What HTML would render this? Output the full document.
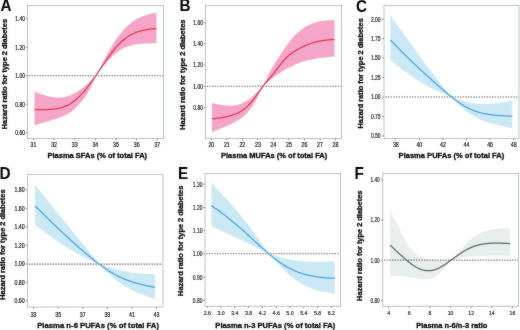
<!DOCTYPE html>
<html><head><meta charset="utf-8"><style>
html,body{margin:0;padding:0;background:#fff;}
svg{display:block;will-change:transform;}
text{font-family:"Liberation Sans", sans-serif;}
</style></head><body>
<svg xmlns="http://www.w3.org/2000/svg" width="520" height="330" viewBox="0 0 520 330">
<defs><filter id="bl" x="0" y="0" width="520" height="330" filterUnits="userSpaceOnUse" color-interpolation-filters="sRGB"><feGaussianBlur in="SourceGraphic" stdDeviation="0.8" result="b"/><feComposite in="b" in2="SourceGraphic" operator="arithmetic" k1="0" k2="0.28" k3="0.72" k4="0"/></filter></defs>
<rect width="520" height="330" fill="#fff"/>
<g filter="url(#bl)">
<path d="M34.50,91.58 L35.18,91.84 L35.86,92.11 L36.54,92.37 L37.22,92.63 L37.91,92.89 L38.59,93.15 L39.27,93.40 L39.95,93.65 L40.63,93.90 L41.31,94.14 L41.99,94.38 L42.67,94.61 L43.35,94.84 L44.04,95.06 L44.72,95.27 L45.40,95.48 L46.08,95.67 L46.76,95.87 L47.44,96.05 L48.12,96.22 L48.80,96.39 L49.48,96.54 L50.17,96.69 L50.85,96.82 L51.53,96.95 L52.21,97.06 L52.89,97.17 L53.57,97.26 L54.25,97.34 L54.93,97.41 L55.61,97.46 L56.30,97.51 L56.98,97.54 L57.66,97.56 L58.34,97.56 L59.02,97.55 L59.70,97.53 L60.38,97.49 L61.06,97.44 L61.74,97.37 L62.43,97.29 L63.11,97.19 L63.79,97.08 L64.47,96.95 L65.15,96.81 L65.83,96.66 L66.51,96.48 L67.19,96.29 L67.87,96.09 L68.56,95.87 L69.24,95.63 L69.92,95.38 L70.60,95.11 L71.28,94.82 L71.96,94.52 L72.64,94.21 L73.32,93.88 L74.00,93.53 L74.69,93.17 L75.37,92.79 L76.05,92.39 L76.73,91.99 L77.41,91.56 L78.09,91.13 L78.77,90.67 L79.45,90.21 L80.13,89.73 L80.82,89.24 L81.50,88.73 L82.18,88.21 L82.86,87.68 L83.54,87.14 L84.22,86.58 L84.90,86.02 L85.58,85.44 L86.26,84.86 L86.95,84.26 L87.63,83.66 L88.31,83.04 L88.99,82.42 L89.67,81.79 L90.35,81.16 L91.03,80.52 L91.71,79.87 L92.39,79.22 L93.08,78.57 L93.76,77.91 L94.44,77.25 L95.12,76.59 L95.80,75.93 L96.48,74.48 L97.16,73.18 L97.84,71.88 L98.52,70.58 L99.20,69.28 L99.89,67.98 L100.57,66.68 L101.25,65.39 L101.93,64.09 L102.61,62.80 L103.29,61.52 L103.97,60.24 L104.65,58.97 L105.33,57.70 L106.01,56.45 L106.69,55.20 L107.38,53.96 L108.06,52.74 L108.74,51.53 L109.42,50.33 L110.10,49.15 L110.78,47.99 L111.46,46.84 L112.14,45.71 L112.82,44.60 L113.50,43.51 L114.18,42.44 L114.87,41.39 L115.55,40.37 L116.23,39.36 L116.91,38.38 L117.59,37.42 L118.27,36.48 L118.95,35.57 L119.63,34.68 L120.31,33.81 L120.99,32.97 L121.67,32.14 L122.36,31.34 L123.04,30.57 L123.72,29.81 L124.40,29.08 L125.08,28.36 L125.76,27.67 L126.44,27.00 L127.12,26.35 L127.80,25.72 L128.48,25.11 L129.16,24.52 L129.84,23.95 L130.53,23.39 L131.21,22.86 L131.89,22.34 L132.57,21.84 L133.25,21.35 L133.93,20.89 L134.61,20.44 L135.29,20.00 L135.97,19.58 L136.65,19.18 L137.33,18.79 L138.02,18.42 L138.70,18.06 L139.38,17.72 L140.06,17.39 L140.74,17.07 L141.42,16.77 L142.10,16.47 L142.78,16.19 L143.46,15.93 L144.14,15.67 L144.82,15.43 L145.51,15.20 L146.19,14.98 L146.87,14.76 L147.55,14.56 L148.23,14.37 L148.91,14.19 L149.59,14.01 L150.27,13.84 L150.95,13.68 L151.63,13.53 L152.31,13.38 L153.00,13.24 L153.68,13.10 L154.36,12.96 L155.04,12.83 L155.72,12.69 L156.40,12.56 L156.40,43.19 L155.72,43.21 L155.04,43.22 L154.36,43.24 L153.68,43.26 L153.00,43.28 L152.31,43.29 L151.63,43.31 L150.95,43.33 L150.27,43.36 L149.59,43.38 L148.91,43.40 L148.23,43.43 L147.55,43.46 L146.87,43.49 L146.19,43.52 L145.51,43.56 L144.82,43.60 L144.14,43.64 L143.46,43.68 L142.78,43.73 L142.10,43.78 L141.42,43.83 L140.74,43.89 L140.06,43.96 L139.38,44.03 L138.70,44.10 L138.02,44.18 L137.33,44.27 L136.65,44.36 L135.97,44.47 L135.29,44.58 L134.61,44.70 L133.93,44.82 L133.25,44.96 L132.57,45.11 L131.89,45.27 L131.21,45.44 L130.53,45.62 L129.84,45.81 L129.16,46.02 L128.48,46.24 L127.80,46.48 L127.12,46.73 L126.44,46.99 L125.76,47.27 L125.08,47.56 L124.40,47.87 L123.72,48.20 L123.04,48.55 L122.36,48.91 L121.67,49.29 L120.99,49.69 L120.31,50.11 L119.63,50.55 L118.95,51.00 L118.27,51.48 L117.59,51.97 L116.91,52.49 L116.23,53.02 L115.55,53.57 L114.87,54.15 L114.18,54.73 L113.50,55.34 L112.82,55.97 L112.14,56.61 L111.46,57.27 L110.78,57.94 L110.10,58.63 L109.42,59.34 L108.74,60.06 L108.06,60.79 L107.38,61.54 L106.69,62.30 L106.01,63.07 L105.33,63.86 L104.65,64.66 L103.97,65.47 L103.29,66.29 L102.61,67.12 L101.93,67.96 L101.25,68.80 L100.57,69.66 L99.89,70.52 L99.20,71.38 L98.52,72.25 L97.84,73.13 L97.16,74.00 L96.48,74.88 L95.80,75.82 L95.12,77.51 L94.44,79.19 L93.76,80.84 L93.08,82.46 L92.39,84.03 L91.71,85.55 L91.03,86.99 L90.35,88.36 L89.67,89.66 L88.99,90.90 L88.31,92.08 L87.63,93.20 L86.95,94.27 L86.26,95.28 L85.58,96.26 L84.90,97.19 L84.22,98.09 L83.54,98.95 L82.86,99.79 L82.18,100.60 L81.50,101.40 L80.82,102.18 L80.13,102.95 L79.45,103.72 L78.77,104.48 L78.09,105.23 L77.41,105.97 L76.73,106.70 L76.05,107.41 L75.37,108.11 L74.69,108.77 L74.00,109.41 L73.32,110.02 L72.64,110.60 L71.96,111.15 L71.28,111.66 L70.60,112.15 L69.92,112.61 L69.24,113.04 L68.56,113.46 L67.87,113.85 L67.19,114.23 L66.51,114.59 L65.83,114.94 L65.15,115.28 L64.47,115.60 L63.79,115.92 L63.11,116.22 L62.43,116.51 L61.74,116.80 L61.06,117.07 L60.38,117.34 L59.70,117.59 L59.02,117.84 L58.34,118.08 L57.66,118.31 L56.98,118.54 L56.30,118.75 L55.61,118.97 L54.93,119.18 L54.25,119.38 L53.57,119.58 L52.89,119.78 L52.21,119.98 L51.53,120.17 L50.85,120.37 L50.17,120.56 L49.48,120.76 L48.80,120.96 L48.12,121.16 L47.44,121.36 L46.76,121.56 L46.08,121.77 L45.40,121.98 L44.72,122.19 L44.04,122.40 L43.35,122.61 L42.67,122.82 L41.99,123.03 L41.31,123.24 L40.63,123.45 L39.95,123.66 L39.27,123.87 L38.59,124.07 L37.91,124.28 L37.22,124.48 L36.54,124.69 L35.86,124.89 L35.18,125.10 L34.50,125.30Z" fill="#f4a5c8" stroke="none"/>
<line x1="28.0" y1="75.8" x2="163.0" y2="75.8" stroke="#666" stroke-width="1.1" stroke-dasharray="1.45 1.22" stroke-dashoffset="-0.75"/>
<path d="M34.50,109.61 L35.17,109.61 L35.85,109.62 L36.52,109.63 L37.19,109.63 L37.87,109.64 L38.54,109.64 L39.21,109.64 L39.89,109.64 L40.56,109.64 L41.23,109.64 L41.91,109.64 L42.58,109.64 L43.26,109.63 L43.93,109.62 L44.60,109.61 L45.28,109.59 L45.95,109.57 L46.62,109.55 L47.30,109.53 L47.97,109.50 L48.64,109.47 L49.32,109.43 L49.99,109.39 L50.66,109.34 L51.34,109.29 L52.01,109.23 L52.68,109.17 L53.36,109.10 L54.03,109.02 L54.70,108.94 L55.38,108.84 L56.05,108.74 L56.72,108.63 L57.40,108.51 L58.07,108.38 L58.75,108.24 L59.42,108.09 L60.09,107.93 L60.77,107.76 L61.44,107.57 L62.11,107.38 L62.79,107.16 L63.46,106.94 L64.13,106.70 L64.81,106.44 L65.48,106.17 L66.15,105.88 L66.83,105.57 L67.50,105.25 L68.17,104.91 L68.85,104.55 L69.52,104.17 L70.19,103.77 L70.87,103.36 L71.54,102.92 L72.21,102.47 L72.89,101.99 L73.56,101.50 L74.24,100.99 L74.91,100.46 L75.58,99.91 L76.26,99.34 L76.93,98.75 L77.60,98.15 L78.28,97.53 L78.95,96.88 L79.62,96.22 L80.30,95.55 L80.97,94.85 L81.64,94.14 L82.32,93.41 L82.99,92.66 L83.66,91.90 L84.34,91.12 L85.01,90.32 L85.68,89.51 L86.36,88.68 L87.03,87.83 L87.70,86.97 L88.38,86.10 L89.05,85.22 L89.73,84.32 L90.40,83.41 L91.07,82.48 L91.75,81.55 L92.42,80.60 L93.09,79.65 L93.77,78.69 L94.44,77.72 L95.11,76.74 L95.79,75.75 L96.46,74.76 L97.13,73.77 L97.81,72.77 L98.48,71.77 L99.15,70.76 L99.83,69.76 L100.50,68.75 L101.17,67.74 L101.85,66.74 L102.52,65.73 L103.20,64.73 L103.87,63.74 L104.54,62.74 L105.22,61.76 L105.89,60.78 L106.56,59.80 L107.24,58.84 L107.91,57.88 L108.58,56.94 L109.26,56.00 L109.93,55.08 L110.60,54.17 L111.28,53.27 L111.95,52.39 L112.62,51.52 L113.30,50.66 L113.97,49.82 L114.64,49.00 L115.32,48.19 L115.99,47.40 L116.66,46.63 L117.34,45.88 L118.01,45.15 L118.69,44.44 L119.36,43.75 L120.03,43.07 L120.71,42.42 L121.38,41.78 L122.05,41.17 L122.73,40.57 L123.40,40.00 L124.07,39.44 L124.75,38.91 L125.42,38.39 L126.09,37.89 L126.77,37.41 L127.44,36.95 L128.11,36.50 L128.79,36.08 L129.46,35.67 L130.13,35.27 L130.81,34.90 L131.48,34.53 L132.15,34.19 L132.83,33.86 L133.50,33.54 L134.18,33.24 L134.85,32.96 L135.52,32.68 L136.20,32.42 L136.87,32.17 L137.54,31.94 L138.22,31.71 L138.89,31.50 L139.56,31.29 L140.24,31.10 L140.91,30.92 L141.58,30.74 L142.26,30.58 L142.93,30.42 L143.60,30.28 L144.28,30.14 L144.95,30.00 L145.62,29.88 L146.30,29.76 L146.97,29.64 L147.64,29.54 L148.32,29.43 L148.99,29.34 L149.67,29.24 L150.34,29.15 L151.01,29.07 L151.69,28.99 L152.36,28.91 L153.03,28.83 L153.71,28.76 L154.38,28.69 L155.05,28.62 L155.73,28.55 L156.40,28.48" fill="none" stroke="#e63452" stroke-width="1.25" stroke-linejoin="round"/>
<rect x="27.5" y="5.5" width="136.0" height="133.0" fill="none" stroke="#b3c3c3" stroke-width="1"/>
<line x1="25.7" y1="18.7" x2="27.5" y2="18.7" stroke="#7f8f8f" stroke-width="0.9"/>
<text x="24.9" y="21.0" text-anchor="end" font-size="6.4" fill="#1c1c1c" stroke="#1c1c1c" stroke-width="0.22" textLength="9.6" lengthAdjust="spacingAndGlyphs">1.40</text>
<line x1="25.7" y1="47.2" x2="27.5" y2="47.2" stroke="#7f8f8f" stroke-width="0.9"/>
<text x="24.9" y="49.5" text-anchor="end" font-size="6.4" fill="#1c1c1c" stroke="#1c1c1c" stroke-width="0.22" textLength="9.6" lengthAdjust="spacingAndGlyphs">1.20</text>
<line x1="25.7" y1="75.8" x2="27.5" y2="75.8" stroke="#7f8f8f" stroke-width="0.9"/>
<text x="24.9" y="78.1" text-anchor="end" font-size="6.4" fill="#1c1c1c" stroke="#1c1c1c" stroke-width="0.22" textLength="9.6" lengthAdjust="spacingAndGlyphs">1.00</text>
<line x1="25.7" y1="104.3" x2="27.5" y2="104.3" stroke="#7f8f8f" stroke-width="0.9"/>
<text x="24.9" y="106.6" text-anchor="end" font-size="6.4" fill="#1c1c1c" stroke="#1c1c1c" stroke-width="0.22" textLength="9.6" lengthAdjust="spacingAndGlyphs">0.80</text>
<line x1="25.7" y1="132.8" x2="27.5" y2="132.8" stroke="#7f8f8f" stroke-width="0.9"/>
<text x="24.9" y="135.10000000000002" text-anchor="end" font-size="6.4" fill="#1c1c1c" stroke="#1c1c1c" stroke-width="0.22" textLength="9.6" lengthAdjust="spacingAndGlyphs">0.60</text>
<line x1="33.4" y1="138.5" x2="33.4" y2="140.3" stroke="#7f8f8f" stroke-width="0.9"/>
<text x="33.4" y="146.6" text-anchor="middle" font-size="6.4" fill="#1c1c1c" stroke="#1c1c1c" stroke-width="0.22" textLength="5.84" lengthAdjust="spacingAndGlyphs">31</text>
<line x1="54.05" y1="138.5" x2="54.05" y2="140.3" stroke="#7f8f8f" stroke-width="0.9"/>
<text x="54.05" y="146.6" text-anchor="middle" font-size="6.4" fill="#1c1c1c" stroke="#1c1c1c" stroke-width="0.22" textLength="5.84" lengthAdjust="spacingAndGlyphs">32</text>
<line x1="74.69999999999999" y1="138.5" x2="74.69999999999999" y2="140.3" stroke="#7f8f8f" stroke-width="0.9"/>
<text x="74.69999999999999" y="146.6" text-anchor="middle" font-size="6.4" fill="#1c1c1c" stroke="#1c1c1c" stroke-width="0.22" textLength="5.84" lengthAdjust="spacingAndGlyphs">33</text>
<line x1="95.35" y1="138.5" x2="95.35" y2="140.3" stroke="#7f8f8f" stroke-width="0.9"/>
<text x="95.35" y="146.6" text-anchor="middle" font-size="6.4" fill="#1c1c1c" stroke="#1c1c1c" stroke-width="0.22" textLength="5.84" lengthAdjust="spacingAndGlyphs">34</text>
<line x1="116.0" y1="138.5" x2="116.0" y2="140.3" stroke="#7f8f8f" stroke-width="0.9"/>
<text x="116.0" y="146.6" text-anchor="middle" font-size="6.4" fill="#1c1c1c" stroke="#1c1c1c" stroke-width="0.22" textLength="5.84" lengthAdjust="spacingAndGlyphs">35</text>
<line x1="136.65" y1="138.5" x2="136.65" y2="140.3" stroke="#7f8f8f" stroke-width="0.9"/>
<text x="136.65" y="146.6" text-anchor="middle" font-size="6.4" fill="#1c1c1c" stroke="#1c1c1c" stroke-width="0.22" textLength="5.84" lengthAdjust="spacingAndGlyphs">36</text>
<line x1="157.29999999999998" y1="138.5" x2="157.29999999999998" y2="140.3" stroke="#7f8f8f" stroke-width="0.9"/>
<text x="157.29999999999998" y="146.6" text-anchor="middle" font-size="6.4" fill="#1c1c1c" stroke="#1c1c1c" stroke-width="0.22" textLength="5.84" lengthAdjust="spacingAndGlyphs">37</text>
<text x="97.3" y="158.2" text-anchor="middle" font-size="7.5" font-weight="bold" fill="#0a0a0a" stroke="#0a0a0a" stroke-width="0.32">Plasma SFAs (% of total FA)</text>
<text transform="translate(6.8,74.1) rotate(-90)" text-anchor="middle" font-size="7.42" font-weight="bold" fill="#0a0a0a" stroke="#0a0a0a" stroke-width="0.32">Hazard ratio for type 2 diabetes</text>
<text transform="translate(0.5,10.7) scale(1,1.09)" font-size="15.3" font-weight="bold" fill="#000">A</text>
<path d="M212.00,103.12 L212.68,103.25 L213.35,103.39 L214.03,103.53 L214.70,103.67 L215.38,103.80 L216.06,103.94 L216.73,104.07 L217.41,104.20 L218.08,104.33 L218.76,104.45 L219.44,104.57 L220.11,104.69 L220.79,104.80 L221.46,104.91 L222.14,105.01 L222.82,105.11 L223.49,105.20 L224.17,105.28 L224.84,105.36 L225.52,105.43 L226.20,105.49 L226.87,105.54 L227.55,105.58 L228.22,105.62 L228.90,105.64 L229.58,105.65 L230.25,105.65 L230.93,105.64 L231.60,105.61 L232.28,105.58 L232.96,105.53 L233.63,105.46 L234.31,105.39 L234.98,105.29 L235.66,105.19 L236.34,105.06 L237.01,104.92 L237.69,104.77 L238.36,104.59 L239.04,104.40 L239.72,104.19 L240.39,103.96 L241.07,103.71 L241.74,103.45 L242.42,103.16 L243.10,102.85 L243.77,102.53 L244.45,102.18 L245.12,101.82 L245.80,101.43 L246.48,101.03 L247.15,100.60 L247.83,100.15 L248.50,99.69 L249.18,99.20 L249.86,98.70 L250.53,98.17 L251.21,97.63 L251.88,97.07 L252.56,96.49 L253.24,95.89 L253.91,95.28 L254.59,94.65 L255.26,94.01 L255.94,93.35 L256.62,92.68 L257.29,92.00 L257.97,91.31 L258.64,90.60 L259.32,89.89 L260.00,89.18 L260.67,88.45 L261.35,87.73 L262.02,87.00 L262.70,86.27 L263.38,84.95 L264.05,83.67 L264.73,82.39 L265.41,81.07 L266.09,79.73 L266.76,78.36 L267.44,76.96 L268.12,75.57 L268.80,74.18 L269.47,72.81 L270.15,71.47 L270.83,70.19 L271.51,68.94 L272.18,67.73 L272.86,66.56 L273.54,65.42 L274.22,64.30 L274.89,63.20 L275.57,62.13 L276.25,61.07 L276.92,60.02 L277.60,58.98 L278.28,57.94 L278.96,56.91 L279.63,55.88 L280.31,54.85 L280.99,53.82 L281.67,52.80 L282.34,51.78 L283.02,50.76 L283.70,49.74 L284.38,48.73 L285.05,47.72 L285.73,46.73 L286.41,45.74 L287.08,44.77 L287.76,43.82 L288.44,42.89 L289.12,41.98 L289.79,41.10 L290.47,40.26 L291.15,39.44 L291.83,38.64 L292.50,37.88 L293.18,37.13 L293.86,36.41 L294.54,35.71 L295.21,35.03 L295.89,34.37 L296.57,33.72 L297.25,33.09 L297.92,32.48 L298.60,31.88 L299.28,31.31 L299.95,30.75 L300.63,30.20 L301.31,29.68 L301.99,29.17 L302.66,28.69 L303.34,28.22 L304.02,27.76 L304.70,27.33 L305.37,26.91 L306.05,26.51 L306.73,26.12 L307.41,25.75 L308.08,25.40 L308.76,25.06 L309.44,24.74 L310.12,24.43 L310.79,24.13 L311.47,23.85 L312.15,23.58 L312.82,23.33 L313.50,23.08 L314.18,22.85 L314.86,22.63 L315.53,22.42 L316.21,22.23 L316.89,22.04 L317.57,21.87 L318.24,21.70 L318.92,21.55 L319.60,21.41 L320.28,21.28 L320.95,21.15 L321.63,21.04 L322.31,20.94 L322.98,20.84 L323.66,20.75 L324.34,20.67 L325.02,20.60 L325.69,20.54 L326.37,20.48 L327.05,20.42 L327.73,20.38 L328.40,20.34 L329.08,20.30 L329.76,20.26 L330.44,20.23 L331.11,20.21 L331.79,20.18 L332.47,20.16 L333.15,20.14 L333.82,20.12 L334.50,20.10 L334.50,56.58 L333.82,56.64 L333.15,56.69 L332.47,56.75 L331.79,56.81 L331.11,56.87 L330.44,56.93 L329.76,56.99 L329.08,57.06 L328.40,57.12 L327.73,57.18 L327.05,57.25 L326.37,57.32 L325.69,57.39 L325.02,57.46 L324.34,57.53 L323.66,57.61 L322.98,57.68 L322.31,57.76 L321.63,57.85 L320.95,57.93 L320.28,58.02 L319.60,58.11 L318.92,58.21 L318.24,58.30 L317.57,58.40 L316.89,58.51 L316.21,58.62 L315.53,58.73 L314.86,58.85 L314.18,58.97 L313.50,59.09 L312.82,59.22 L312.15,59.36 L311.47,59.50 L310.79,59.64 L310.12,59.79 L309.44,59.95 L308.76,60.11 L308.08,60.27 L307.41,60.44 L306.73,60.62 L306.05,60.81 L305.37,60.99 L304.70,61.19 L304.02,61.39 L303.34,61.60 L302.66,61.81 L301.99,62.04 L301.31,62.26 L300.63,62.50 L299.95,62.74 L299.28,62.98 L298.60,63.24 L297.92,63.50 L297.25,63.76 L296.57,64.04 L295.89,64.32 L295.21,64.60 L294.54,64.90 L293.86,65.20 L293.18,65.50 L292.50,65.82 L291.83,66.14 L291.15,66.46 L290.47,66.80 L289.79,67.14 L289.12,67.49 L288.44,67.84 L287.76,68.21 L287.08,68.58 L286.41,68.96 L285.73,69.35 L285.05,69.74 L284.38,70.15 L283.70,70.56 L283.02,70.97 L282.34,71.40 L281.67,71.83 L280.99,72.27 L280.31,72.72 L279.63,73.17 L278.96,73.63 L278.28,74.10 L277.60,74.57 L276.92,75.05 L276.25,75.54 L275.57,76.03 L274.89,76.53 L274.22,77.03 L273.54,77.54 L272.86,78.05 L272.18,78.57 L271.51,79.09 L270.83,79.61 L270.15,80.14 L269.47,80.68 L268.80,81.21 L268.12,81.75 L267.44,82.29 L266.76,82.84 L266.09,83.39 L265.41,83.93 L264.73,84.48 L264.05,85.04 L263.38,85.59 L262.70,86.27 L262.02,87.70 L261.35,89.14 L260.67,90.56 L260.00,91.98 L259.32,93.37 L258.64,94.75 L257.97,96.10 L257.29,97.43 L256.62,98.72 L255.94,99.98 L255.26,101.21 L254.59,102.41 L253.91,103.57 L253.24,104.69 L252.56,105.77 L251.88,106.81 L251.21,107.81 L250.53,108.77 L249.86,109.69 L249.18,110.57 L248.50,111.41 L247.83,112.21 L247.15,112.98 L246.48,113.71 L245.80,114.40 L245.12,115.06 L244.45,115.68 L243.77,116.28 L243.10,116.84 L242.42,117.38 L241.74,117.88 L241.07,118.37 L240.39,118.83 L239.72,119.27 L239.04,119.70 L238.36,120.10 L237.69,120.50 L237.01,120.88 L236.34,121.25 L235.66,121.61 L234.98,121.96 L234.31,122.31 L233.63,122.66 L232.96,123.00 L232.28,123.33 L231.60,123.66 L230.93,123.99 L230.25,124.31 L229.58,124.63 L228.90,124.95 L228.22,125.27 L227.55,125.58 L226.87,125.89 L226.20,126.20 L225.52,126.50 L224.84,126.81 L224.17,127.11 L223.49,127.40 L222.82,127.70 L222.14,127.99 L221.46,128.29 L220.79,128.58 L220.11,128.86 L219.44,129.15 L218.76,129.44 L218.08,129.72 L217.41,130.00 L216.73,130.28 L216.06,130.56 L215.38,130.83 L214.70,131.11 L214.03,131.38 L213.35,131.66 L212.68,131.93 L212.00,132.20Z" fill="#f4a5c8" stroke="none"/>
<line x1="206.0" y1="86.2" x2="341.0" y2="86.2" stroke="#666" stroke-width="1.1" stroke-dasharray="1.45 1.22" stroke-dashoffset="-0.75"/>
<path d="M212.00,118.90 L212.67,118.83 L213.35,118.76 L214.02,118.69 L214.69,118.61 L215.37,118.54 L216.04,118.46 L216.71,118.37 L217.38,118.29 L218.06,118.19 L218.73,118.10 L219.40,117.99 L220.08,117.89 L220.75,117.78 L221.42,117.66 L222.10,117.55 L222.77,117.42 L223.44,117.30 L224.12,117.17 L224.79,117.03 L225.46,116.89 L226.13,116.75 L226.81,116.60 L227.48,116.44 L228.15,116.28 L228.83,116.11 L229.50,115.94 L230.17,115.75 L230.85,115.56 L231.52,115.36 L232.19,115.15 L232.87,114.94 L233.54,114.71 L234.21,114.47 L234.88,114.21 L235.56,113.95 L236.23,113.67 L236.90,113.38 L237.58,113.07 L238.25,112.75 L238.92,112.41 L239.60,112.05 L240.27,111.67 L240.94,111.28 L241.62,110.86 L242.29,110.42 L242.96,109.95 L243.63,109.47 L244.31,108.96 L244.98,108.43 L245.65,107.87 L246.33,107.29 L247.00,106.69 L247.67,106.06 L248.35,105.41 L249.02,104.73 L249.69,104.02 L250.37,103.29 L251.04,102.53 L251.71,101.75 L252.38,100.94 L253.06,100.11 L253.73,99.25 L254.40,98.37 L255.08,97.46 L255.75,96.54 L256.42,95.60 L257.10,94.65 L257.77,93.69 L258.44,92.72 L259.12,91.75 L259.79,90.77 L260.46,89.80 L261.13,88.84 L261.81,87.89 L262.48,86.96 L263.15,86.05 L263.83,85.16 L264.50,84.29 L265.17,83.44 L265.85,82.61 L266.52,81.80 L267.19,81.01 L267.87,80.23 L268.54,79.46 L269.21,78.69 L269.88,77.92 L270.56,77.14 L271.23,76.36 L271.90,75.57 L272.58,74.76 L273.25,73.93 L273.92,73.08 L274.60,72.21 L275.27,71.33 L275.94,70.43 L276.62,69.53 L277.29,68.63 L277.96,67.73 L278.63,66.83 L279.31,65.94 L279.98,65.06 L280.65,64.20 L281.33,63.35 L282.00,62.53 L282.67,61.73 L283.35,60.96 L284.02,60.21 L284.69,59.48 L285.37,58.77 L286.04,58.09 L286.71,57.43 L287.38,56.80 L288.06,56.19 L288.73,55.60 L289.40,55.03 L290.08,54.49 L290.75,53.97 L291.42,53.46 L292.10,52.98 L292.77,52.51 L293.44,52.05 L294.12,51.61 L294.79,51.18 L295.46,50.76 L296.13,50.35 L296.81,49.94 L297.48,49.55 L298.15,49.17 L298.83,48.79 L299.50,48.43 L300.17,48.07 L300.85,47.72 L301.52,47.39 L302.19,47.06 L302.87,46.74 L303.54,46.43 L304.21,46.13 L304.88,45.83 L305.56,45.55 L306.23,45.26 L306.90,44.99 L307.58,44.72 L308.25,44.46 L308.92,44.20 L309.60,43.95 L310.27,43.71 L310.94,43.47 L311.62,43.24 L312.29,43.02 L312.96,42.81 L313.63,42.60 L314.31,42.40 L314.98,42.21 L315.65,42.02 L316.33,41.85 L317.00,41.68 L317.67,41.52 L318.35,41.37 L319.02,41.22 L319.69,41.08 L320.37,40.95 L321.04,40.83 L321.71,40.71 L322.38,40.60 L323.06,40.50 L323.73,40.40 L324.40,40.31 L325.08,40.23 L325.75,40.15 L326.42,40.08 L327.10,40.01 L327.77,39.95 L328.44,39.89 L329.12,39.84 L329.79,39.79 L330.46,39.74 L331.13,39.69 L331.81,39.65 L332.48,39.61 L333.15,39.57 L333.83,39.54 L334.50,39.50" fill="none" stroke="#e63452" stroke-width="1.25" stroke-linejoin="round"/>
<rect x="205.5" y="5.5" width="136.0" height="133.0" fill="none" stroke="#b3c3c3" stroke-width="1"/>
<line x1="203.7" y1="22.6" x2="205.5" y2="22.6" stroke="#7f8f8f" stroke-width="0.9"/>
<text x="202.9" y="24.900000000000002" text-anchor="end" font-size="6.4" fill="#1c1c1c" stroke="#1c1c1c" stroke-width="0.22" textLength="9.6" lengthAdjust="spacingAndGlyphs">1.60</text>
<line x1="203.7" y1="43.9" x2="205.5" y2="43.9" stroke="#7f8f8f" stroke-width="0.9"/>
<text x="202.9" y="46.199999999999996" text-anchor="end" font-size="6.4" fill="#1c1c1c" stroke="#1c1c1c" stroke-width="0.22" textLength="9.6" lengthAdjust="spacingAndGlyphs">1.40</text>
<line x1="203.7" y1="65.1" x2="205.5" y2="65.1" stroke="#7f8f8f" stroke-width="0.9"/>
<text x="202.9" y="67.39999999999999" text-anchor="end" font-size="6.4" fill="#1c1c1c" stroke="#1c1c1c" stroke-width="0.22" textLength="9.6" lengthAdjust="spacingAndGlyphs">1.20</text>
<line x1="203.7" y1="86.3" x2="205.5" y2="86.3" stroke="#7f8f8f" stroke-width="0.9"/>
<text x="202.9" y="88.6" text-anchor="end" font-size="6.4" fill="#1c1c1c" stroke="#1c1c1c" stroke-width="0.22" textLength="9.6" lengthAdjust="spacingAndGlyphs">1.00</text>
<line x1="203.7" y1="107.8" x2="205.5" y2="107.8" stroke="#7f8f8f" stroke-width="0.9"/>
<text x="202.9" y="110.1" text-anchor="end" font-size="6.4" fill="#1c1c1c" stroke="#1c1c1c" stroke-width="0.22" textLength="9.6" lengthAdjust="spacingAndGlyphs">0.80</text>
<line x1="211.3" y1="138.5" x2="211.3" y2="140.3" stroke="#7f8f8f" stroke-width="0.9"/>
<text x="211.3" y="146.7" text-anchor="middle" font-size="6.4" fill="#1c1c1c" stroke="#1c1c1c" stroke-width="0.22" textLength="5.84" lengthAdjust="spacingAndGlyphs">20</text>
<line x1="226.83" y1="138.5" x2="226.83" y2="140.3" stroke="#7f8f8f" stroke-width="0.9"/>
<text x="226.83" y="146.7" text-anchor="middle" font-size="6.4" fill="#1c1c1c" stroke="#1c1c1c" stroke-width="0.22" textLength="5.84" lengthAdjust="spacingAndGlyphs">21</text>
<line x1="242.36" y1="138.5" x2="242.36" y2="140.3" stroke="#7f8f8f" stroke-width="0.9"/>
<text x="242.36" y="146.7" text-anchor="middle" font-size="6.4" fill="#1c1c1c" stroke="#1c1c1c" stroke-width="0.22" textLength="5.84" lengthAdjust="spacingAndGlyphs">22</text>
<line x1="257.89" y1="138.5" x2="257.89" y2="140.3" stroke="#7f8f8f" stroke-width="0.9"/>
<text x="257.89" y="146.7" text-anchor="middle" font-size="6.4" fill="#1c1c1c" stroke="#1c1c1c" stroke-width="0.22" textLength="5.84" lengthAdjust="spacingAndGlyphs">23</text>
<line x1="273.42" y1="138.5" x2="273.42" y2="140.3" stroke="#7f8f8f" stroke-width="0.9"/>
<text x="273.42" y="146.7" text-anchor="middle" font-size="6.4" fill="#1c1c1c" stroke="#1c1c1c" stroke-width="0.22" textLength="5.84" lengthAdjust="spacingAndGlyphs">24</text>
<line x1="288.95" y1="138.5" x2="288.95" y2="140.3" stroke="#7f8f8f" stroke-width="0.9"/>
<text x="288.95" y="146.7" text-anchor="middle" font-size="6.4" fill="#1c1c1c" stroke="#1c1c1c" stroke-width="0.22" textLength="5.84" lengthAdjust="spacingAndGlyphs">25</text>
<line x1="304.48" y1="138.5" x2="304.48" y2="140.3" stroke="#7f8f8f" stroke-width="0.9"/>
<text x="304.48" y="146.7" text-anchor="middle" font-size="6.4" fill="#1c1c1c" stroke="#1c1c1c" stroke-width="0.22" textLength="5.84" lengthAdjust="spacingAndGlyphs">26</text>
<line x1="320.01" y1="138.5" x2="320.01" y2="140.3" stroke="#7f8f8f" stroke-width="0.9"/>
<text x="320.01" y="146.7" text-anchor="middle" font-size="6.4" fill="#1c1c1c" stroke="#1c1c1c" stroke-width="0.22" textLength="5.84" lengthAdjust="spacingAndGlyphs">27</text>
<line x1="335.54" y1="138.5" x2="335.54" y2="140.3" stroke="#7f8f8f" stroke-width="0.9"/>
<text x="335.54" y="146.7" text-anchor="middle" font-size="6.4" fill="#1c1c1c" stroke="#1c1c1c" stroke-width="0.22" textLength="5.84" lengthAdjust="spacingAndGlyphs">28</text>
<text x="274.1" y="158.2" text-anchor="middle" font-size="7.5" font-weight="bold" fill="#0a0a0a" stroke="#0a0a0a" stroke-width="0.32">Plasma MUFAs (% of total FA)</text>
<text transform="translate(184.6,74.7) rotate(-90)" text-anchor="middle" font-size="7.42" font-weight="bold" fill="#0a0a0a" stroke="#0a0a0a" stroke-width="0.32">Hazard ratio for type 2 diabetes</text>
<text transform="translate(179.5,11.3) scale(1,1.09)" font-size="15.3" font-weight="bold" fill="#000">B</text>
<path d="M390.40,15.49 L391.08,16.41 L391.76,17.34 L392.43,18.26 L393.11,19.19 L393.79,20.11 L394.47,21.04 L395.14,21.96 L395.82,22.89 L396.50,23.81 L397.18,24.74 L397.86,25.67 L398.53,26.60 L399.21,27.53 L399.89,28.46 L400.57,29.39 L401.24,30.33 L401.92,31.26 L402.60,32.19 L403.28,33.13 L403.96,34.07 L404.63,35.00 L405.31,35.94 L405.99,36.88 L406.67,37.82 L407.34,38.76 L408.02,39.70 L408.70,40.64 L409.38,41.58 L410.06,42.53 L410.73,43.47 L411.41,44.41 L412.09,45.35 L412.77,46.29 L413.44,47.24 L414.12,48.18 L414.80,49.12 L415.48,50.06 L416.16,51.00 L416.83,51.94 L417.51,52.88 L418.19,53.82 L418.87,54.75 L419.54,55.69 L420.22,56.62 L420.90,57.56 L421.58,58.49 L422.26,59.42 L422.93,60.35 L423.61,61.27 L424.29,62.20 L424.97,63.12 L425.64,64.04 L426.32,64.96 L427.00,65.87 L427.68,66.79 L428.36,67.69 L429.03,68.60 L429.71,69.50 L430.39,70.41 L431.07,71.30 L431.74,72.20 L432.42,73.09 L433.10,73.98 L433.78,74.86 L434.46,75.74 L435.13,76.62 L435.81,77.50 L436.49,78.37 L437.17,79.23 L437.84,80.10 L438.52,80.96 L439.20,81.82 L439.88,82.68 L440.56,83.54 L441.23,84.39 L441.91,85.24 L442.59,86.09 L443.27,86.94 L443.94,87.78 L444.62,88.63 L445.30,89.47 L445.98,90.31 L446.66,91.15 L447.33,91.99 L448.01,92.83 L448.69,93.67 L449.37,94.51 L450.04,95.34 L450.72,96.18 L451.40,97.02 L452.08,97.30 L452.75,97.53 L453.43,97.77 L454.11,98.01 L454.78,98.24 L455.46,98.47 L456.14,98.70 L456.81,98.93 L457.49,99.15 L458.17,99.38 L458.84,99.60 L459.52,99.81 L460.20,100.02 L460.87,100.23 L461.55,100.43 L462.23,100.63 L462.90,100.83 L463.58,101.02 L464.26,101.20 L464.93,101.38 L465.61,101.55 L466.29,101.72 L466.96,101.88 L467.64,102.04 L468.32,102.19 L468.99,102.33 L469.67,102.47 L470.35,102.60 L471.02,102.73 L471.70,102.85 L472.38,102.96 L473.05,103.07 L473.73,103.17 L474.41,103.27 L475.08,103.36 L475.76,103.44 L476.44,103.52 L477.11,103.59 L477.79,103.65 L478.47,103.71 L479.14,103.76 L479.82,103.80 L480.50,103.84 L481.17,103.87 L481.85,103.90 L482.53,103.92 L483.20,103.94 L483.88,103.95 L484.56,103.95 L485.23,103.95 L485.91,103.94 L486.59,103.93 L487.26,103.91 L487.94,103.88 L488.62,103.86 L489.29,103.82 L489.97,103.78 L490.65,103.74 L491.32,103.69 L492.00,103.64 L492.68,103.58 L493.35,103.52 L494.03,103.46 L494.71,103.39 L495.38,103.31 L496.06,103.24 L496.74,103.15 L497.41,103.07 L498.09,102.98 L498.77,102.89 L499.44,102.80 L500.12,102.70 L500.80,102.60 L501.47,102.50 L502.15,102.39 L502.83,102.29 L503.50,102.18 L504.18,102.06 L504.86,101.95 L505.53,101.84 L506.21,101.72 L506.89,101.60 L507.56,101.48 L508.24,101.36 L508.92,101.24 L509.59,101.12 L510.27,101.00 L510.95,100.87 L511.62,100.75 L512.30,100.63 L512.30,128.50 L511.62,128.35 L510.95,128.19 L510.27,128.04 L509.59,127.89 L508.92,127.73 L508.24,127.58 L507.56,127.43 L506.89,127.27 L506.21,127.12 L505.53,126.96 L504.86,126.81 L504.18,126.65 L503.50,126.49 L502.83,126.34 L502.15,126.18 L501.47,126.02 L500.80,125.86 L500.12,125.70 L499.44,125.54 L498.77,125.38 L498.09,125.21 L497.41,125.05 L496.74,124.88 L496.06,124.71 L495.38,124.54 L494.71,124.36 L494.03,124.19 L493.35,124.01 L492.68,123.82 L492.00,123.64 L491.32,123.45 L490.65,123.25 L489.97,123.05 L489.29,122.85 L488.62,122.64 L487.94,122.43 L487.26,122.21 L486.59,121.99 L485.91,121.76 L485.23,121.52 L484.56,121.28 L483.88,121.03 L483.20,120.78 L482.53,120.51 L481.85,120.24 L481.17,119.96 L480.50,119.67 L479.82,119.37 L479.14,119.07 L478.47,118.75 L477.79,118.43 L477.11,118.09 L476.44,117.74 L475.76,117.39 L475.08,117.02 L474.41,116.64 L473.73,116.25 L473.05,115.84 L472.38,115.43 L471.70,115.00 L471.02,114.56 L470.35,114.11 L469.67,113.64 L468.99,113.17 L468.32,112.67 L467.64,112.17 L466.96,111.65 L466.29,111.12 L465.61,110.58 L464.93,110.02 L464.26,109.46 L463.58,108.88 L462.90,108.29 L462.23,107.68 L461.55,107.07 L460.87,106.45 L460.20,105.81 L459.52,105.17 L458.84,104.52 L458.17,103.86 L457.49,103.19 L456.81,102.52 L456.14,101.84 L455.46,101.16 L454.78,100.48 L454.11,99.79 L453.43,99.10 L452.75,98.41 L452.08,97.72 L451.40,97.07 L450.72,96.78 L450.04,96.50 L449.37,96.22 L448.69,95.94 L448.01,95.66 L447.33,95.37 L446.66,95.09 L445.98,94.80 L445.30,94.52 L444.62,94.23 L443.94,93.94 L443.27,93.65 L442.59,93.36 L441.91,93.06 L441.23,92.77 L440.56,92.47 L439.88,92.17 L439.20,91.87 L438.52,91.56 L437.84,91.25 L437.17,90.94 L436.49,90.63 L435.81,90.31 L435.13,90.00 L434.46,89.67 L433.78,89.35 L433.10,89.02 L432.42,88.69 L431.74,88.35 L431.07,88.02 L430.39,87.67 L429.71,87.33 L429.03,86.98 L428.36,86.62 L427.68,86.26 L427.00,85.90 L426.32,85.54 L425.64,85.17 L424.97,84.79 L424.29,84.41 L423.61,84.03 L422.93,83.64 L422.26,83.25 L421.58,82.85 L420.90,82.45 L420.22,82.04 L419.54,81.63 L418.87,81.22 L418.19,80.80 L417.51,80.37 L416.83,79.95 L416.16,79.51 L415.48,79.08 L414.80,78.63 L414.12,78.19 L413.44,77.74 L412.77,77.28 L412.09,76.83 L411.41,76.36 L410.73,75.90 L410.06,75.43 L409.38,74.95 L408.70,74.47 L408.02,73.99 L407.34,73.50 L406.67,73.02 L405.99,72.52 L405.31,72.03 L404.63,71.53 L403.96,71.03 L403.28,70.52 L402.60,70.01 L401.92,69.50 L401.24,68.99 L400.57,68.48 L399.89,67.96 L399.21,67.44 L398.53,66.92 L397.86,66.40 L397.18,65.87 L396.50,65.35 L395.82,64.82 L395.14,64.29 L394.47,63.76 L393.79,63.23 L393.11,62.70 L392.43,62.17 L391.76,61.64 L391.08,61.10 L390.40,60.57Z" fill="#cbe9f5" stroke="none"/>
<line x1="384.5" y1="97" x2="518.5" y2="97" stroke="#666" stroke-width="1.1" stroke-dasharray="1.45 1.22" stroke-dashoffset="-0.75"/>
<path d="M390.40,40.02 L391.07,40.71 L391.75,41.40 L392.42,42.09 L393.09,42.79 L393.77,43.48 L394.44,44.17 L395.11,44.86 L395.79,45.55 L396.46,46.24 L397.13,46.93 L397.81,47.61 L398.48,48.30 L399.16,48.99 L399.83,49.67 L400.50,50.35 L401.18,51.03 L401.85,51.71 L402.52,52.39 L403.20,53.07 L403.87,53.74 L404.54,54.42 L405.22,55.09 L405.89,55.76 L406.56,56.42 L407.24,57.09 L407.91,57.75 L408.58,58.41 L409.26,59.07 L409.93,59.73 L410.60,60.38 L411.28,61.03 L411.95,61.68 L412.62,62.33 L413.30,62.97 L413.97,63.62 L414.65,64.26 L415.32,64.89 L415.99,65.53 L416.67,66.16 L417.34,66.79 L418.01,67.42 L418.69,68.05 L419.36,68.68 L420.03,69.30 L420.71,69.92 L421.38,70.54 L422.05,71.16 L422.73,71.78 L423.40,72.39 L424.07,73.01 L424.75,73.62 L425.42,74.23 L426.09,74.84 L426.77,75.45 L427.44,76.06 L428.11,76.66 L428.79,77.27 L429.46,77.88 L430.14,78.48 L430.81,79.08 L431.48,79.69 L432.16,80.29 L432.83,80.89 L433.50,81.49 L434.18,82.09 L434.85,82.69 L435.52,83.28 L436.20,83.88 L436.87,84.48 L437.54,85.07 L438.22,85.67 L438.89,86.26 L439.56,86.85 L440.24,87.44 L440.91,88.03 L441.58,88.62 L442.26,89.20 L442.93,89.79 L443.60,90.37 L444.28,90.95 L444.95,91.53 L445.63,92.10 L446.30,92.67 L446.97,93.24 L447.65,93.81 L448.32,94.37 L448.99,94.93 L449.67,95.48 L450.34,96.03 L451.01,96.58 L451.69,97.12 L452.36,97.65 L453.03,98.18 L453.71,98.70 L454.38,99.22 L455.05,99.73 L455.73,100.24 L456.40,100.73 L457.07,101.22 L457.75,101.71 L458.42,102.18 L459.10,102.65 L459.77,103.11 L460.44,103.56 L461.12,104.00 L461.79,104.44 L462.46,104.86 L463.14,105.28 L463.81,105.68 L464.48,106.08 L465.16,106.46 L465.83,106.84 L466.50,107.21 L467.18,107.56 L467.85,107.91 L468.52,108.25 L469.20,108.58 L469.87,108.90 L470.54,109.20 L471.22,109.50 L471.89,109.79 L472.56,110.07 L473.24,110.34 L473.91,110.61 L474.59,110.86 L475.26,111.10 L475.93,111.34 L476.61,111.56 L477.28,111.78 L477.95,111.99 L478.63,112.19 L479.30,112.39 L479.97,112.57 L480.65,112.75 L481.32,112.92 L481.99,113.09 L482.67,113.25 L483.34,113.40 L484.01,113.54 L484.69,113.68 L485.36,113.81 L486.03,113.94 L486.71,114.06 L487.38,114.17 L488.05,114.28 L488.73,114.39 L489.40,114.49 L490.08,114.59 L490.75,114.68 L491.42,114.77 L492.10,114.85 L492.77,114.93 L493.44,115.01 L494.12,115.08 L494.79,115.15 L495.46,115.22 L496.14,115.28 L496.81,115.34 L497.48,115.40 L498.16,115.46 L498.83,115.51 L499.50,115.56 L500.18,115.61 L500.85,115.66 L501.52,115.71 L502.20,115.75 L502.87,115.80 L503.54,115.84 L504.22,115.88 L504.89,115.92 L505.57,115.96 L506.24,116.00 L506.91,116.04 L507.59,116.07 L508.26,116.11 L508.93,116.14 L509.61,116.18 L510.28,116.21 L510.95,116.25 L511.63,116.28 L512.30,116.32" fill="none" stroke="#45a3df" stroke-width="1.25" stroke-linejoin="round"/>
<rect x="384" y="5.5" width="135" height="133.0" fill="none" stroke="#b3c3c3" stroke-width="1"/>
<line x1="382.2" y1="19.2" x2="384" y2="19.2" stroke="#7f8f8f" stroke-width="0.9"/>
<text x="380.6" y="21.5" text-anchor="end" font-size="6.4" fill="#1c1c1c" stroke="#1c1c1c" stroke-width="0.22" textLength="9.6" lengthAdjust="spacingAndGlyphs">2.00</text>
<line x1="382.2" y1="38.6" x2="384" y2="38.6" stroke="#7f8f8f" stroke-width="0.9"/>
<text x="380.6" y="40.9" text-anchor="end" font-size="6.4" fill="#1c1c1c" stroke="#1c1c1c" stroke-width="0.22" textLength="9.6" lengthAdjust="spacingAndGlyphs">1.75</text>
<line x1="382.2" y1="58" x2="384" y2="58" stroke="#7f8f8f" stroke-width="0.9"/>
<text x="380.6" y="60.3" text-anchor="end" font-size="6.4" fill="#1c1c1c" stroke="#1c1c1c" stroke-width="0.22" textLength="9.6" lengthAdjust="spacingAndGlyphs">1.50</text>
<line x1="382.2" y1="77.5" x2="384" y2="77.5" stroke="#7f8f8f" stroke-width="0.9"/>
<text x="380.6" y="79.8" text-anchor="end" font-size="6.4" fill="#1c1c1c" stroke="#1c1c1c" stroke-width="0.22" textLength="9.6" lengthAdjust="spacingAndGlyphs">1.25</text>
<line x1="382.2" y1="97" x2="384" y2="97" stroke="#7f8f8f" stroke-width="0.9"/>
<text x="380.6" y="99.3" text-anchor="end" font-size="6.4" fill="#1c1c1c" stroke="#1c1c1c" stroke-width="0.22" textLength="9.6" lengthAdjust="spacingAndGlyphs">1.00</text>
<line x1="382.2" y1="116.5" x2="384" y2="116.5" stroke="#7f8f8f" stroke-width="0.9"/>
<text x="380.6" y="118.8" text-anchor="end" font-size="6.4" fill="#1c1c1c" stroke="#1c1c1c" stroke-width="0.22" textLength="9.6" lengthAdjust="spacingAndGlyphs">0.75</text>
<line x1="382.2" y1="136" x2="384" y2="136" stroke="#7f8f8f" stroke-width="0.9"/>
<text x="380.6" y="138.3" text-anchor="end" font-size="6.4" fill="#1c1c1c" stroke="#1c1c1c" stroke-width="0.22" textLength="9.6" lengthAdjust="spacingAndGlyphs">0.50</text>
<line x1="395.8" y1="138.5" x2="395.8" y2="140.3" stroke="#7f8f8f" stroke-width="0.9"/>
<text x="395.8" y="146.7" text-anchor="middle" font-size="6.4" fill="#1c1c1c" stroke="#1c1c1c" stroke-width="0.22" textLength="5.84" lengthAdjust="spacingAndGlyphs">38</text>
<line x1="419.38" y1="138.5" x2="419.38" y2="140.3" stroke="#7f8f8f" stroke-width="0.9"/>
<text x="419.38" y="146.7" text-anchor="middle" font-size="6.4" fill="#1c1c1c" stroke="#1c1c1c" stroke-width="0.22" textLength="5.84" lengthAdjust="spacingAndGlyphs">40</text>
<line x1="442.96000000000004" y1="138.5" x2="442.96000000000004" y2="140.3" stroke="#7f8f8f" stroke-width="0.9"/>
<text x="442.96000000000004" y="146.7" text-anchor="middle" font-size="6.4" fill="#1c1c1c" stroke="#1c1c1c" stroke-width="0.22" textLength="5.84" lengthAdjust="spacingAndGlyphs">42</text>
<line x1="466.54" y1="138.5" x2="466.54" y2="140.3" stroke="#7f8f8f" stroke-width="0.9"/>
<text x="466.54" y="146.7" text-anchor="middle" font-size="6.4" fill="#1c1c1c" stroke="#1c1c1c" stroke-width="0.22" textLength="5.84" lengthAdjust="spacingAndGlyphs">44</text>
<line x1="490.12" y1="138.5" x2="490.12" y2="140.3" stroke="#7f8f8f" stroke-width="0.9"/>
<text x="490.12" y="146.7" text-anchor="middle" font-size="6.4" fill="#1c1c1c" stroke="#1c1c1c" stroke-width="0.22" textLength="5.84" lengthAdjust="spacingAndGlyphs">46</text>
<line x1="513.7" y1="138.5" x2="513.7" y2="140.3" stroke="#7f8f8f" stroke-width="0.9"/>
<text x="513.7" y="146.7" text-anchor="middle" font-size="6.4" fill="#1c1c1c" stroke="#1c1c1c" stroke-width="0.22" textLength="5.84" lengthAdjust="spacingAndGlyphs">48</text>
<text x="451.45" y="158.2" text-anchor="middle" font-size="7.55" font-weight="bold" fill="#0a0a0a" stroke="#0a0a0a" stroke-width="0.32">Plasma PUFAs (% of total FA)</text>
<text transform="translate(362.6,73.35) rotate(-90)" text-anchor="middle" font-size="7.42" font-weight="bold" fill="#0a0a0a" stroke="#0a0a0a" stroke-width="0.32">Hazard ratio for type 2 diabetes</text>
<text transform="translate(356.1,11.5) scale(1,1.09)" font-size="15.3" font-weight="bold" fill="#000">C</text>
<path d="M34.90,184.41 L35.58,185.26 L36.26,186.11 L36.93,186.95 L37.61,187.80 L38.29,188.65 L38.97,189.50 L39.65,190.35 L40.32,191.19 L41.00,192.04 L41.68,192.89 L42.36,193.73 L43.03,194.58 L43.71,195.43 L44.39,196.28 L45.07,197.12 L45.75,197.97 L46.42,198.82 L47.10,199.66 L47.78,200.51 L48.46,201.36 L49.14,202.20 L49.81,203.05 L50.49,203.89 L51.17,204.74 L51.85,205.58 L52.53,206.43 L53.20,207.27 L53.88,208.12 L54.56,208.96 L55.24,209.81 L55.91,210.65 L56.59,211.50 L57.27,212.34 L57.95,213.18 L58.63,214.03 L59.30,214.87 L59.98,215.71 L60.66,216.55 L61.34,217.39 L62.02,218.24 L62.69,219.08 L63.37,219.92 L64.05,220.76 L64.73,221.60 L65.41,222.44 L66.08,223.28 L66.76,224.12 L67.44,224.96 L68.12,225.79 L68.79,226.63 L69.47,227.47 L70.15,228.31 L70.83,229.15 L71.51,229.98 L72.18,230.82 L72.86,231.66 L73.54,232.49 L74.22,233.33 L74.90,234.16 L75.57,235.00 L76.25,235.83 L76.93,236.67 L77.61,237.50 L78.29,238.34 L78.96,239.17 L79.64,240.01 L80.32,240.84 L81.00,241.67 L81.67,242.51 L82.35,243.34 L83.03,244.17 L83.71,245.00 L84.39,245.84 L85.06,246.67 L85.74,247.50 L86.42,248.33 L87.10,249.16 L87.78,249.99 L88.45,250.83 L89.13,251.66 L89.81,252.49 L90.49,253.32 L91.17,254.15 L91.84,254.98 L92.52,255.81 L93.20,256.64 L93.88,257.47 L94.55,258.30 L95.23,259.13 L95.91,259.96 L96.59,260.79 L97.27,261.62 L97.94,262.45 L98.62,263.28 L99.30,264.11 L99.98,264.38 L100.66,264.60 L101.34,264.82 L102.02,265.03 L102.70,265.25 L103.38,265.47 L104.05,265.68 L104.73,265.90 L105.41,266.11 L106.09,266.32 L106.77,266.53 L107.45,266.74 L108.13,266.95 L108.81,267.15 L109.49,267.36 L110.17,267.56 L110.85,267.76 L111.53,267.96 L112.21,268.15 L112.89,268.35 L113.56,268.54 L114.24,268.73 L114.92,268.91 L115.60,269.10 L116.28,269.28 L116.96,269.45 L117.64,269.63 L118.32,269.80 L119.00,269.97 L119.68,270.14 L120.36,270.30 L121.04,270.46 L121.72,270.61 L122.40,270.77 L123.07,270.91 L123.75,271.06 L124.43,271.20 L125.11,271.34 L125.79,271.47 L126.47,271.61 L127.15,271.73 L127.83,271.86 L128.51,271.98 L129.19,272.09 L129.87,272.20 L130.55,272.31 L131.23,272.42 L131.90,272.52 L132.58,272.62 L133.26,272.71 L133.94,272.80 L134.62,272.89 L135.30,272.97 L135.98,273.05 L136.66,273.13 L137.34,273.20 L138.02,273.27 L138.70,273.34 L139.38,273.40 L140.06,273.46 L140.74,273.52 L141.41,273.58 L142.09,273.63 L142.77,273.68 L143.45,273.73 L144.13,273.77 L144.81,273.81 L145.49,273.85 L146.17,273.89 L146.85,273.93 L147.53,273.96 L148.21,274.00 L148.89,274.03 L149.57,274.06 L150.25,274.09 L150.92,274.12 L151.60,274.14 L152.28,274.17 L152.96,274.20 L153.64,274.22 L154.32,274.25 L155.00,274.27 L155.00,298.81 L154.32,298.59 L153.64,298.37 L152.96,298.16 L152.28,297.94 L151.60,297.72 L150.92,297.51 L150.25,297.29 L149.57,297.07 L148.89,296.85 L148.21,296.62 L147.53,296.40 L146.85,296.17 L146.17,295.94 L145.49,295.71 L144.81,295.48 L144.13,295.24 L143.45,295.00 L142.77,294.76 L142.09,294.51 L141.41,294.26 L140.74,294.00 L140.06,293.74 L139.38,293.47 L138.70,293.20 L138.02,292.92 L137.34,292.63 L136.66,292.35 L135.98,292.05 L135.30,291.75 L134.62,291.44 L133.94,291.13 L133.26,290.81 L132.58,290.48 L131.90,290.14 L131.23,289.80 L130.55,289.46 L129.87,289.10 L129.19,288.74 L128.51,288.37 L127.83,287.99 L127.15,287.61 L126.47,287.21 L125.79,286.81 L125.11,286.40 L124.43,285.98 L123.75,285.56 L123.07,285.12 L122.40,284.68 L121.72,284.23 L121.04,283.77 L120.36,283.30 L119.68,282.82 L119.00,282.33 L118.32,281.83 L117.64,281.33 L116.96,280.81 L116.28,280.28 L115.60,279.75 L114.92,279.20 L114.24,278.64 L113.56,278.07 L112.89,277.49 L112.21,276.90 L111.53,276.30 L110.85,275.69 L110.17,275.07 L109.49,274.44 L108.81,273.80 L108.13,273.15 L107.45,272.49 L106.77,271.82 L106.09,271.15 L105.41,270.47 L104.73,269.78 L104.05,269.09 L103.38,268.39 L102.70,267.68 L102.02,266.98 L101.34,266.27 L100.66,265.56 L99.98,264.85 L99.30,264.18 L98.62,263.88 L97.95,263.58 L97.27,263.28 L96.60,262.98 L95.92,262.67 L95.25,262.37 L94.57,262.07 L93.89,261.76 L93.22,261.45 L92.54,261.14 L91.87,260.83 L91.19,260.52 L90.51,260.21 L89.84,259.89 L89.16,259.57 L88.49,259.25 L87.81,258.93 L87.14,258.61 L86.46,258.28 L85.78,257.95 L85.11,257.61 L84.43,257.28 L83.76,256.94 L83.08,256.59 L82.41,256.25 L81.73,255.90 L81.05,255.55 L80.38,255.19 L79.70,254.83 L79.03,254.47 L78.35,254.11 L77.67,253.74 L77.00,253.37 L76.32,252.99 L75.65,252.61 L74.97,252.23 L74.30,251.85 L73.62,251.46 L72.94,251.07 L72.27,250.67 L71.59,250.28 L70.92,249.87 L70.24,249.47 L69.57,249.06 L68.89,248.65 L68.21,248.24 L67.54,247.82 L66.86,247.40 L66.19,246.98 L65.51,246.55 L64.83,246.12 L64.16,245.69 L63.48,245.26 L62.81,244.82 L62.13,244.38 L61.46,243.93 L60.78,243.49 L60.10,243.04 L59.43,242.58 L58.75,242.13 L58.08,241.67 L57.40,241.21 L56.73,240.74 L56.05,240.27 L55.37,239.80 L54.70,239.33 L54.02,238.86 L53.35,238.38 L52.67,237.90 L51.99,237.42 L51.32,236.93 L50.64,236.44 L49.97,235.95 L49.29,235.46 L48.62,234.97 L47.94,234.47 L47.26,233.97 L46.59,233.47 L45.91,232.97 L45.24,232.46 L44.56,231.96 L43.89,231.45 L43.21,230.94 L42.53,230.43 L41.86,229.92 L41.18,229.40 L40.51,228.89 L39.83,228.38 L39.15,227.86 L38.48,227.34 L37.80,226.83 L37.13,226.31 L36.45,225.79 L35.78,225.27 L35.10,224.76Z" fill="#cbe9f5" stroke="none"/>
<line x1="28.0" y1="264.1" x2="162.5" y2="264.1" stroke="#666" stroke-width="1.1" stroke-dasharray="1.45 1.22" stroke-dashoffset="-0.75"/>
<path d="M35.20,205.93 L35.87,206.60 L36.55,207.28 L37.22,207.95 L37.89,208.62 L38.57,209.30 L39.24,209.97 L39.91,210.64 L40.58,211.31 L41.26,211.99 L41.93,212.66 L42.60,213.33 L43.28,214.00 L43.95,214.67 L44.62,215.33 L45.30,216.00 L45.97,216.67 L46.64,217.33 L47.31,218.00 L47.99,218.66 L48.66,219.33 L49.33,219.99 L50.01,220.65 L50.68,221.31 L51.35,221.96 L52.03,222.62 L52.70,223.27 L53.37,223.93 L54.04,224.58 L54.72,225.23 L55.39,225.88 L56.06,226.52 L56.74,227.17 L57.41,227.81 L58.08,228.45 L58.76,229.09 L59.43,229.73 L60.10,230.36 L60.78,231.00 L61.45,231.63 L62.12,232.26 L62.79,232.89 L63.47,233.51 L64.14,234.14 L64.81,234.76 L65.49,235.38 L66.16,236.00 L66.83,236.61 L67.51,237.23 L68.18,237.84 L68.85,238.45 L69.52,239.06 L70.20,239.67 L70.87,240.27 L71.54,240.88 L72.22,241.48 L72.89,242.08 L73.56,242.68 L74.24,243.28 L74.91,243.88 L75.58,244.47 L76.26,245.07 L76.93,245.66 L77.60,246.25 L78.27,246.84 L78.95,247.43 L79.62,248.02 L80.29,248.61 L80.97,249.19 L81.64,249.78 L82.31,250.36 L82.99,250.94 L83.66,251.52 L84.33,252.09 L85.00,252.67 L85.68,253.24 L86.35,253.81 L87.02,254.38 L87.70,254.94 L88.37,255.51 L89.04,256.07 L89.72,256.63 L90.39,257.18 L91.06,257.73 L91.73,258.28 L92.41,258.83 L93.08,259.37 L93.75,259.91 L94.43,260.45 L95.10,260.98 L95.77,261.51 L96.45,262.04 L97.12,262.56 L97.79,263.07 L98.47,263.59 L99.14,264.10 L99.81,264.60 L100.48,265.10 L101.16,265.59 L101.83,266.08 L102.50,266.57 L103.18,267.05 L103.85,267.52 L104.52,267.99 L105.20,268.46 L105.87,268.91 L106.54,269.37 L107.21,269.81 L107.89,270.25 L108.56,270.69 L109.23,271.12 L109.91,271.54 L110.58,271.95 L111.25,272.36 L111.93,272.76 L112.60,273.16 L113.27,273.55 L113.94,273.93 L114.62,274.31 L115.29,274.68 L115.96,275.04 L116.64,275.39 L117.31,275.74 L117.98,276.09 L118.66,276.42 L119.33,276.75 L120.00,277.07 L120.68,277.39 L121.35,277.70 L122.02,278.00 L122.69,278.30 L123.37,278.59 L124.04,278.87 L124.71,279.15 L125.39,279.43 L126.06,279.69 L126.73,279.95 L127.41,280.21 L128.08,280.46 L128.75,280.70 L129.42,280.94 L130.10,281.18 L130.77,281.41 L131.44,281.63 L132.12,281.85 L132.79,282.07 L133.46,282.28 L134.14,282.48 L134.81,282.68 L135.48,282.88 L136.16,283.08 L136.83,283.27 L137.50,283.45 L138.17,283.63 L138.85,283.81 L139.52,283.99 L140.19,284.16 L140.87,284.33 L141.54,284.50 L142.21,284.66 L142.89,284.82 L143.56,284.98 L144.23,285.14 L144.90,285.30 L145.58,285.45 L146.25,285.60 L146.92,285.75 L147.60,285.90 L148.27,286.05 L148.94,286.19 L149.62,286.33 L150.29,286.48 L150.96,286.62 L151.63,286.76 L152.31,286.90 L152.98,287.04 L153.65,287.18 L154.33,287.32 L155.00,287.46" fill="none" stroke="#45a3df" stroke-width="1.25" stroke-linejoin="round"/>
<rect x="27.5" y="174.5" width="135.5" height="132.5" fill="none" stroke="#b3c3c3" stroke-width="1"/>
<line x1="25.7" y1="189.9" x2="27.5" y2="189.9" stroke="#7f8f8f" stroke-width="0.9"/>
<text x="24.7" y="192.20000000000002" text-anchor="end" font-size="6.4" fill="#1c1c1c" stroke="#1c1c1c" stroke-width="0.22" textLength="10.2" lengthAdjust="spacingAndGlyphs">1.80</text>
<line x1="25.7" y1="208.4" x2="27.5" y2="208.4" stroke="#7f8f8f" stroke-width="0.9"/>
<text x="24.7" y="210.70000000000002" text-anchor="end" font-size="6.4" fill="#1c1c1c" stroke="#1c1c1c" stroke-width="0.22" textLength="10.2" lengthAdjust="spacingAndGlyphs">1.60</text>
<line x1="25.7" y1="226.8" x2="27.5" y2="226.8" stroke="#7f8f8f" stroke-width="0.9"/>
<text x="24.7" y="229.10000000000002" text-anchor="end" font-size="6.4" fill="#1c1c1c" stroke="#1c1c1c" stroke-width="0.22" textLength="10.2" lengthAdjust="spacingAndGlyphs">1.40</text>
<line x1="25.7" y1="245.3" x2="27.5" y2="245.3" stroke="#7f8f8f" stroke-width="0.9"/>
<text x="24.7" y="247.60000000000002" text-anchor="end" font-size="6.4" fill="#1c1c1c" stroke="#1c1c1c" stroke-width="0.22" textLength="10.2" lengthAdjust="spacingAndGlyphs">1.20</text>
<line x1="25.7" y1="263.9" x2="27.5" y2="263.9" stroke="#7f8f8f" stroke-width="0.9"/>
<text x="24.7" y="266.2" text-anchor="end" font-size="6.4" fill="#1c1c1c" stroke="#1c1c1c" stroke-width="0.22" textLength="10.2" lengthAdjust="spacingAndGlyphs">1.00</text>
<line x1="25.7" y1="282.3" x2="27.5" y2="282.3" stroke="#7f8f8f" stroke-width="0.9"/>
<text x="24.7" y="284.6" text-anchor="end" font-size="6.4" fill="#1c1c1c" stroke="#1c1c1c" stroke-width="0.22" textLength="10.2" lengthAdjust="spacingAndGlyphs">0.80</text>
<line x1="25.7" y1="300.8" x2="27.5" y2="300.8" stroke="#7f8f8f" stroke-width="0.9"/>
<text x="24.7" y="303.1" text-anchor="end" font-size="6.4" fill="#1c1c1c" stroke="#1c1c1c" stroke-width="0.22" textLength="10.2" lengthAdjust="spacingAndGlyphs">0.60</text>
<line x1="33.6" y1="307" x2="33.6" y2="308.8" stroke="#7f8f8f" stroke-width="0.9"/>
<text x="33.6" y="316.6" text-anchor="middle" font-size="6.4" fill="#1c1c1c" stroke="#1c1c1c" stroke-width="0.22" textLength="5.84" lengthAdjust="spacingAndGlyphs">33</text>
<line x1="58.18" y1="307" x2="58.18" y2="308.8" stroke="#7f8f8f" stroke-width="0.9"/>
<text x="58.18" y="316.6" text-anchor="middle" font-size="6.4" fill="#1c1c1c" stroke="#1c1c1c" stroke-width="0.22" textLength="5.84" lengthAdjust="spacingAndGlyphs">35</text>
<line x1="82.75999999999999" y1="307" x2="82.75999999999999" y2="308.8" stroke="#7f8f8f" stroke-width="0.9"/>
<text x="82.75999999999999" y="316.6" text-anchor="middle" font-size="6.4" fill="#1c1c1c" stroke="#1c1c1c" stroke-width="0.22" textLength="5.84" lengthAdjust="spacingAndGlyphs">37</text>
<line x1="107.34" y1="307" x2="107.34" y2="308.8" stroke="#7f8f8f" stroke-width="0.9"/>
<text x="107.34" y="316.6" text-anchor="middle" font-size="6.4" fill="#1c1c1c" stroke="#1c1c1c" stroke-width="0.22" textLength="5.84" lengthAdjust="spacingAndGlyphs">39</text>
<line x1="131.92" y1="307" x2="131.92" y2="308.8" stroke="#7f8f8f" stroke-width="0.9"/>
<text x="131.92" y="316.6" text-anchor="middle" font-size="6.4" fill="#1c1c1c" stroke="#1c1c1c" stroke-width="0.22" textLength="5.84" lengthAdjust="spacingAndGlyphs">41</text>
<line x1="156.5" y1="307" x2="156.5" y2="308.8" stroke="#7f8f8f" stroke-width="0.9"/>
<text x="156.5" y="316.6" text-anchor="middle" font-size="6.4" fill="#1c1c1c" stroke="#1c1c1c" stroke-width="0.22" textLength="5.84" lengthAdjust="spacingAndGlyphs">43</text>
<text x="98.1" y="327.9" text-anchor="middle" font-size="7.72" font-weight="bold" fill="#0a0a0a" stroke="#0a0a0a" stroke-width="0.32">Plasma n-6 PUFAs (% of total FA)</text>
<text transform="translate(5.4,244.6) rotate(-90)" text-anchor="middle" font-size="7.42" font-weight="bold" fill="#0a0a0a" stroke="#0a0a0a" stroke-width="0.32">Hazard ratio for type 2 diabetes</text>
<text transform="translate(-0.6,178.5) scale(1,1.09)" font-size="15.3" font-weight="bold" fill="#000">D</text>
<path d="M211.40,182.69 L212.08,183.42 L212.75,184.16 L213.43,184.89 L214.10,185.62 L214.78,186.35 L215.45,187.08 L216.13,187.81 L216.80,188.54 L217.48,189.28 L218.15,190.01 L218.83,190.74 L219.50,191.47 L220.18,192.21 L220.85,192.94 L221.53,193.68 L222.20,194.41 L222.88,195.15 L223.56,195.89 L224.23,196.63 L224.91,197.37 L225.58,198.11 L226.26,198.86 L226.93,199.60 L227.61,200.35 L228.28,201.10 L228.96,201.85 L229.63,202.60 L230.31,203.36 L230.98,204.12 L231.66,204.88 L232.33,205.65 L233.01,206.41 L233.68,207.19 L234.36,207.96 L235.04,208.74 L235.71,209.52 L236.39,210.30 L237.06,211.09 L237.74,211.89 L238.41,212.68 L239.09,213.49 L239.76,214.29 L240.44,215.10 L241.11,215.92 L241.79,216.74 L242.46,217.57 L243.14,218.40 L243.81,219.23 L244.49,220.08 L245.16,220.92 L245.84,221.78 L246.52,222.63 L247.19,223.50 L247.87,224.37 L248.54,225.24 L249.22,226.12 L249.89,227.01 L250.57,227.90 L251.24,228.80 L251.92,229.70 L252.59,230.61 L253.27,231.53 L253.94,232.45 L254.62,233.37 L255.29,234.30 L255.97,235.24 L256.64,236.18 L257.32,237.12 L258.00,238.07 L258.67,239.02 L259.35,239.97 L260.02,240.93 L260.70,241.90 L261.37,242.86 L262.05,243.83 L262.72,244.80 L263.40,245.78 L264.07,246.75 L264.75,247.73 L265.42,248.71 L266.10,249.70 L266.77,250.68 L267.45,251.67 L268.12,252.65 L268.80,253.64 L269.47,253.98 L270.15,254.21 L270.82,254.43 L271.49,254.65 L272.17,254.87 L272.84,255.09 L273.51,255.31 L274.19,255.52 L274.86,255.73 L275.53,255.94 L276.21,256.15 L276.88,256.35 L277.56,256.55 L278.23,256.75 L278.90,256.95 L279.58,257.14 L280.25,257.32 L280.92,257.50 L281.60,257.68 L282.27,257.85 L282.94,258.02 L283.62,258.19 L284.29,258.35 L284.96,258.51 L285.64,258.66 L286.31,258.81 L286.98,258.96 L287.66,259.10 L288.33,259.23 L289.00,259.36 L289.68,259.49 L290.35,259.62 L291.02,259.73 L291.70,259.85 L292.37,259.96 L293.04,260.07 L293.72,260.17 L294.39,260.27 L295.07,260.37 L295.74,260.46 L296.41,260.55 L297.09,260.63 L297.76,260.71 L298.43,260.79 L299.11,260.86 L299.78,260.93 L300.45,261.00 L301.13,261.06 L301.80,261.12 L302.47,261.18 L303.15,261.23 L303.82,261.28 L304.49,261.33 L305.17,261.38 L305.84,261.42 L306.51,261.46 L307.19,261.50 L307.86,261.53 L308.53,261.56 L309.21,261.59 L309.88,261.62 L310.56,261.64 L311.23,261.66 L311.90,261.68 L312.58,261.70 L313.25,261.71 L313.92,261.73 L314.60,261.74 L315.27,261.75 L315.94,261.75 L316.62,261.76 L317.29,261.76 L317.96,261.76 L318.64,261.76 L319.31,261.76 L319.98,261.76 L320.66,261.75 L321.33,261.75 L322.00,261.74 L322.68,261.73 L323.35,261.72 L324.02,261.71 L324.70,261.69 L325.37,261.68 L326.04,261.67 L326.72,261.65 L327.39,261.63 L328.07,261.62 L328.74,261.60 L329.41,261.58 L330.09,261.56 L330.76,261.54 L331.43,261.52 L332.11,261.50 L332.78,261.48 L333.45,261.45 L334.13,261.43 L334.80,261.41 L334.80,293.55 L334.13,293.47 L333.45,293.38 L332.78,293.29 L332.11,293.21 L331.43,293.12 L330.76,293.03 L330.09,292.93 L329.41,292.84 L328.74,292.74 L328.07,292.64 L327.39,292.54 L326.72,292.43 L326.04,292.32 L325.37,292.21 L324.70,292.09 L324.02,291.97 L323.35,291.84 L322.68,291.70 L322.00,291.56 L321.33,291.42 L320.66,291.27 L319.98,291.11 L319.31,290.95 L318.64,290.78 L317.96,290.61 L317.29,290.42 L316.62,290.23 L315.94,290.04 L315.27,289.83 L314.60,289.62 L313.92,289.40 L313.25,289.17 L312.58,288.93 L311.90,288.69 L311.23,288.43 L310.56,288.17 L309.88,287.90 L309.21,287.62 L308.53,287.33 L307.86,287.03 L307.19,286.72 L306.51,286.40 L305.84,286.07 L305.17,285.73 L304.49,285.38 L303.82,285.03 L303.15,284.66 L302.47,284.28 L301.80,283.89 L301.13,283.49 L300.45,283.08 L299.78,282.66 L299.11,282.22 L298.43,281.78 L297.76,281.32 L297.09,280.86 L296.41,280.38 L295.74,279.90 L295.07,279.40 L294.39,278.89 L293.72,278.37 L293.04,277.85 L292.37,277.31 L291.70,276.76 L291.02,276.20 L290.35,275.64 L289.68,275.06 L289.00,274.47 L288.33,273.88 L287.66,273.27 L286.98,272.66 L286.31,272.03 L285.64,271.40 L284.96,270.76 L284.29,270.12 L283.62,269.46 L282.94,268.80 L282.27,268.13 L281.60,267.45 L280.92,266.77 L280.25,266.08 L279.58,265.39 L278.90,264.69 L278.23,263.98 L277.56,263.27 L276.88,262.55 L276.21,261.84 L275.53,261.11 L274.86,260.39 L274.19,259.66 L273.51,258.92 L272.84,258.19 L272.17,257.45 L271.49,256.72 L270.82,255.98 L270.15,255.24 L269.47,254.49 L268.80,253.69 L268.12,253.35 L267.45,253.02 L266.77,252.68 L266.10,252.35 L265.42,252.01 L264.75,251.68 L264.07,251.34 L263.40,251.00 L262.72,250.67 L262.05,250.33 L261.37,250.00 L260.70,249.66 L260.02,249.33 L259.35,248.99 L258.67,248.66 L258.00,248.32 L257.32,247.99 L256.64,247.65 L255.97,247.32 L255.29,246.98 L254.62,246.65 L253.94,246.32 L253.27,245.98 L252.59,245.65 L251.92,245.32 L251.24,244.98 L250.57,244.65 L249.89,244.32 L249.22,243.99 L248.54,243.66 L247.87,243.33 L247.19,242.99 L246.52,242.66 L245.84,242.34 L245.16,242.01 L244.49,241.68 L243.81,241.35 L243.14,241.02 L242.46,240.69 L241.79,240.37 L241.11,240.04 L240.44,239.72 L239.76,239.39 L239.09,239.07 L238.41,238.75 L237.74,238.42 L237.06,238.10 L236.39,237.78 L235.71,237.46 L235.04,237.14 L234.36,236.82 L233.68,236.50 L233.01,236.19 L232.33,235.87 L231.66,235.56 L230.98,235.24 L230.31,234.93 L229.63,234.61 L228.96,234.30 L228.28,233.99 L227.61,233.67 L226.93,233.36 L226.26,233.05 L225.58,232.74 L224.91,232.43 L224.23,232.13 L223.56,231.82 L222.88,231.51 L222.20,231.20 L221.53,230.90 L220.85,230.59 L220.18,230.29 L219.50,229.98 L218.83,229.68 L218.15,229.37 L217.48,229.07 L216.80,228.77 L216.13,228.46 L215.45,228.16 L214.78,227.86 L214.10,227.55 L213.43,227.25 L212.75,226.95 L212.08,226.65 L211.40,226.34Z" fill="#cbe9f5" stroke="none"/>
<line x1="205.5" y1="253.7" x2="340.0" y2="253.7" stroke="#666" stroke-width="1.1" stroke-dasharray="1.45 1.22" stroke-dashoffset="-0.75"/>
<path d="M211.40,205.48 L212.07,205.96 L212.74,206.44 L213.41,206.93 L214.08,207.41 L214.75,207.90 L215.42,208.39 L216.09,208.87 L216.77,209.36 L217.44,209.85 L218.11,210.34 L218.78,210.83 L219.45,211.33 L220.12,211.82 L220.79,212.32 L221.46,212.82 L222.13,213.32 L222.80,213.83 L223.47,214.33 L224.14,214.84 L224.81,215.35 L225.48,215.87 L226.15,216.38 L226.83,216.90 L227.50,217.43 L228.17,217.95 L228.84,218.48 L229.51,219.01 L230.18,219.55 L230.85,220.09 L231.52,220.63 L232.19,221.17 L232.86,221.72 L233.53,222.27 L234.20,222.83 L234.87,223.39 L235.54,223.95 L236.21,224.51 L236.88,225.08 L237.56,225.65 L238.23,226.23 L238.90,226.80 L239.57,227.38 L240.24,227.97 L240.91,228.55 L241.58,229.14 L242.25,229.74 L242.92,230.33 L243.59,230.93 L244.26,231.53 L244.93,232.13 L245.60,232.73 L246.27,233.34 L246.94,233.95 L247.62,234.56 L248.29,235.17 L248.96,235.78 L249.63,236.39 L250.30,237.01 L250.97,237.63 L251.64,238.24 L252.31,238.86 L252.98,239.48 L253.65,240.10 L254.32,240.72 L254.99,241.34 L255.66,241.96 L256.33,242.58 L257.00,243.20 L257.68,243.82 L258.35,244.44 L259.02,245.05 L259.69,245.67 L260.36,246.28 L261.03,246.89 L261.70,247.50 L262.37,248.11 L263.04,248.71 L263.71,249.32 L264.38,249.92 L265.05,250.51 L265.72,251.11 L266.39,251.69 L267.06,252.28 L267.73,252.86 L268.41,253.44 L269.08,254.01 L269.75,254.58 L270.42,255.15 L271.09,255.70 L271.76,256.26 L272.43,256.80 L273.10,257.35 L273.77,257.88 L274.44,258.41 L275.11,258.93 L275.78,259.45 L276.45,259.96 L277.12,260.46 L277.79,260.96 L278.47,261.44 L279.14,261.92 L279.81,262.40 L280.48,262.86 L281.15,263.31 L281.82,263.76 L282.49,264.20 L283.16,264.63 L283.83,265.05 L284.50,265.47 L285.17,265.88 L285.84,266.27 L286.51,266.66 L287.18,267.04 L287.85,267.42 L288.53,267.78 L289.20,268.14 L289.87,268.49 L290.54,268.83 L291.21,269.16 L291.88,269.48 L292.55,269.80 L293.22,270.11 L293.89,270.41 L294.56,270.70 L295.23,270.99 L295.90,271.27 L296.57,271.54 L297.24,271.80 L297.91,272.06 L298.58,272.31 L299.26,272.55 L299.93,272.79 L300.60,273.02 L301.27,273.24 L301.94,273.46 L302.61,273.67 L303.28,273.88 L303.95,274.07 L304.62,274.27 L305.29,274.45 L305.96,274.63 L306.63,274.80 L307.30,274.97 L307.97,275.14 L308.64,275.29 L309.32,275.44 L309.99,275.59 L310.66,275.73 L311.33,275.87 L312.00,276.00 L312.67,276.12 L313.34,276.24 L314.01,276.36 L314.68,276.47 L315.35,276.58 L316.02,276.68 L316.69,276.78 L317.36,276.87 L318.03,276.96 L318.70,277.05 L319.38,277.13 L320.05,277.21 L320.72,277.29 L321.39,277.36 L322.06,277.43 L322.73,277.49 L323.40,277.56 L324.07,277.62 L324.74,277.67 L325.41,277.73 L326.08,277.78 L326.75,277.83 L327.42,277.88 L328.09,277.93 L328.76,277.97 L329.43,278.01 L330.11,278.06 L330.78,278.10 L331.45,278.14 L332.12,278.18 L332.79,278.21 L333.46,278.25 L334.13,278.29 L334.80,278.33" fill="none" stroke="#45a3df" stroke-width="1.25" stroke-linejoin="round"/>
<rect x="205" y="173.5" width="135.5" height="132.8" fill="none" stroke="#b3c3c3" stroke-width="1"/>
<line x1="203.2" y1="184.2" x2="205" y2="184.2" stroke="#7f8f8f" stroke-width="0.9"/>
<text x="202.4" y="186.5" text-anchor="end" font-size="6.4" fill="#1c1c1c" stroke="#1c1c1c" stroke-width="0.18" textLength="9.6" lengthAdjust="spacingAndGlyphs">1.30</text>
<line x1="203.2" y1="207.4" x2="205" y2="207.4" stroke="#7f8f8f" stroke-width="0.9"/>
<text x="202.4" y="209.70000000000002" text-anchor="end" font-size="6.4" fill="#1c1c1c" stroke="#1c1c1c" stroke-width="0.18" textLength="9.6" lengthAdjust="spacingAndGlyphs">1.20</text>
<line x1="203.2" y1="230.6" x2="205" y2="230.6" stroke="#7f8f8f" stroke-width="0.9"/>
<text x="202.4" y="232.9" text-anchor="end" font-size="6.4" fill="#1c1c1c" stroke="#1c1c1c" stroke-width="0.18" textLength="9.6" lengthAdjust="spacingAndGlyphs">1.10</text>
<line x1="203.2" y1="253.8" x2="205" y2="253.8" stroke="#7f8f8f" stroke-width="0.9"/>
<text x="202.4" y="256.1" text-anchor="end" font-size="6.4" fill="#1c1c1c" stroke="#1c1c1c" stroke-width="0.18" textLength="9.6" lengthAdjust="spacingAndGlyphs">1.00</text>
<line x1="203.2" y1="277.2" x2="205" y2="277.2" stroke="#7f8f8f" stroke-width="0.9"/>
<text x="202.4" y="279.5" text-anchor="end" font-size="6.4" fill="#1c1c1c" stroke="#1c1c1c" stroke-width="0.18" textLength="9.6" lengthAdjust="spacingAndGlyphs">0.90</text>
<line x1="203.2" y1="300.3" x2="205" y2="300.3" stroke="#7f8f8f" stroke-width="0.9"/>
<text x="202.4" y="302.6" text-anchor="end" font-size="6.4" fill="#1c1c1c" stroke="#1c1c1c" stroke-width="0.18" textLength="9.6" lengthAdjust="spacingAndGlyphs">0.80</text>
<line x1="207.3" y1="306.3" x2="207.3" y2="308.1" stroke="#7f8f8f" stroke-width="0.9"/>
<text x="207.3" y="314.6" text-anchor="middle" font-size="5.8" fill="#1c1c1c" stroke="#1c1c1c" stroke-width="0.18" textLength="7.26" lengthAdjust="spacingAndGlyphs">2.6</text>
<line x1="221.08" y1="306.3" x2="221.08" y2="308.1" stroke="#7f8f8f" stroke-width="0.9"/>
<text x="221.08" y="314.6" text-anchor="middle" font-size="5.8" fill="#1c1c1c" stroke="#1c1c1c" stroke-width="0.18" textLength="7.26" lengthAdjust="spacingAndGlyphs">3.0</text>
<line x1="234.86" y1="306.3" x2="234.86" y2="308.1" stroke="#7f8f8f" stroke-width="0.9"/>
<text x="234.86" y="314.6" text-anchor="middle" font-size="5.8" fill="#1c1c1c" stroke="#1c1c1c" stroke-width="0.18" textLength="7.26" lengthAdjust="spacingAndGlyphs">3.4</text>
<line x1="248.64000000000001" y1="306.3" x2="248.64000000000001" y2="308.1" stroke="#7f8f8f" stroke-width="0.9"/>
<text x="248.64000000000001" y="314.6" text-anchor="middle" font-size="5.8" fill="#1c1c1c" stroke="#1c1c1c" stroke-width="0.18" textLength="7.26" lengthAdjust="spacingAndGlyphs">3.8</text>
<line x1="262.42" y1="306.3" x2="262.42" y2="308.1" stroke="#7f8f8f" stroke-width="0.9"/>
<text x="262.42" y="314.6" text-anchor="middle" font-size="5.8" fill="#1c1c1c" stroke="#1c1c1c" stroke-width="0.18" textLength="7.26" lengthAdjust="spacingAndGlyphs">4.2</text>
<line x1="276.2" y1="306.3" x2="276.2" y2="308.1" stroke="#7f8f8f" stroke-width="0.9"/>
<text x="276.2" y="314.6" text-anchor="middle" font-size="5.8" fill="#1c1c1c" stroke="#1c1c1c" stroke-width="0.18" textLength="7.26" lengthAdjust="spacingAndGlyphs">4.6</text>
<line x1="289.98" y1="306.3" x2="289.98" y2="308.1" stroke="#7f8f8f" stroke-width="0.9"/>
<text x="289.98" y="314.6" text-anchor="middle" font-size="5.8" fill="#1c1c1c" stroke="#1c1c1c" stroke-width="0.18" textLength="7.26" lengthAdjust="spacingAndGlyphs">5.0</text>
<line x1="303.76" y1="306.3" x2="303.76" y2="308.1" stroke="#7f8f8f" stroke-width="0.9"/>
<text x="303.76" y="314.6" text-anchor="middle" font-size="5.8" fill="#1c1c1c" stroke="#1c1c1c" stroke-width="0.18" textLength="7.26" lengthAdjust="spacingAndGlyphs">5.4</text>
<line x1="317.54" y1="306.3" x2="317.54" y2="308.1" stroke="#7f8f8f" stroke-width="0.9"/>
<text x="317.54" y="314.6" text-anchor="middle" font-size="5.8" fill="#1c1c1c" stroke="#1c1c1c" stroke-width="0.18" textLength="7.26" lengthAdjust="spacingAndGlyphs">5.8</text>
<line x1="331.32" y1="306.3" x2="331.32" y2="308.1" stroke="#7f8f8f" stroke-width="0.9"/>
<text x="331.32" y="314.6" text-anchor="middle" font-size="5.8" fill="#1c1c1c" stroke="#1c1c1c" stroke-width="0.18" textLength="7.26" lengthAdjust="spacingAndGlyphs">6.2</text>
<text x="275.25" y="327.6" text-anchor="middle" font-size="7.6" font-weight="bold" fill="#0a0a0a" stroke="#0a0a0a" stroke-width="0.32">Plasma n-3 PUFAs (% of total FA)</text>
<text transform="translate(183.4,240.8) rotate(-90)" text-anchor="middle" font-size="7.42" font-weight="bold" fill="#0a0a0a" stroke="#0a0a0a" stroke-width="0.32">Hazard ratio for type 2 diabetes</text>
<text transform="translate(178.1,178.5) scale(1,1.09)" font-size="15.3" font-weight="bold" fill="#000">E</text>
<path d="M390.10,209.81 L390.78,211.20 L391.46,212.58 L392.14,213.96 L392.82,215.34 L393.49,216.71 L394.17,218.07 L394.85,219.43 L395.53,220.77 L396.21,222.12 L396.89,223.47 L397.57,224.81 L398.25,226.16 L398.93,227.52 L399.60,228.88 L400.28,230.25 L400.96,231.62 L401.64,232.99 L402.32,234.34 L403.00,235.69 L403.68,237.01 L404.36,238.30 L405.04,239.57 L405.71,240.80 L406.39,241.99 L407.07,243.15 L407.75,244.27 L408.43,245.34 L409.11,246.36 L409.79,247.34 L410.47,248.27 L411.15,249.15 L411.82,249.97 L412.50,250.75 L413.18,251.48 L413.86,252.16 L414.54,252.80 L415.22,253.40 L415.90,253.96 L416.58,254.48 L417.26,254.96 L417.93,255.42 L418.61,255.84 L419.29,256.23 L419.97,256.59 L420.65,256.92 L421.33,257.23 L422.01,257.52 L422.69,257.78 L423.37,258.02 L424.04,258.24 L424.72,258.45 L425.40,258.64 L426.08,258.82 L426.76,258.98 L427.44,259.13 L428.12,259.27 L428.80,259.40 L429.48,259.53 L430.15,259.64 L430.83,259.74 L431.51,259.84 L432.19,259.93 L432.87,260.01 L433.55,260.08 L434.23,260.15 L434.91,260.21 L435.59,260.27 L436.26,260.31 L436.94,260.36 L437.62,260.39 L438.30,260.42 L438.98,260.45 L439.66,260.47 L440.34,260.48 L441.02,260.49 L441.70,260.49 L442.37,260.49 L443.05,260.48 L443.73,260.47 L444.41,260.45 L445.09,260.43 L445.77,260.40 L446.45,260.37 L447.13,260.34 L447.81,260.31 L448.48,260.27 L449.16,260.23 L449.84,260.19 L450.52,260.14 L451.20,260.10 L451.88,259.37 L452.56,258.62 L453.23,257.87 L453.91,257.12 L454.59,256.36 L455.27,255.59 L455.95,254.82 L456.63,254.05 L457.30,253.26 L457.98,252.48 L458.66,251.69 L459.34,250.89 L460.02,250.10 L460.69,249.31 L461.37,248.53 L462.05,247.74 L462.73,246.97 L463.41,246.20 L464.09,245.45 L464.76,244.71 L465.44,243.98 L466.12,243.27 L466.80,242.58 L467.48,241.91 L468.15,241.26 L468.83,240.63 L469.51,240.02 L470.19,239.43 L470.87,238.86 L471.54,238.32 L472.22,237.79 L472.90,237.29 L473.58,236.80 L474.26,236.33 L474.94,235.89 L475.61,235.46 L476.29,235.05 L476.97,234.65 L477.65,234.28 L478.33,233.92 L479.00,233.57 L479.68,233.24 L480.36,232.93 L481.04,232.63 L481.72,232.35 L482.40,232.08 L483.07,231.82 L483.75,231.57 L484.43,231.34 L485.11,231.12 L485.79,230.91 L486.46,230.71 L487.14,230.52 L487.82,230.35 L488.50,230.18 L489.18,230.03 L489.86,229.88 L490.53,229.75 L491.21,229.62 L491.89,229.50 L492.57,229.39 L493.25,229.29 L493.92,229.20 L494.60,229.12 L495.28,229.04 L495.96,228.97 L496.64,228.90 L497.31,228.84 L497.99,228.78 L498.67,228.73 L499.35,228.69 L500.03,228.65 L500.71,228.61 L501.38,228.57 L502.06,228.54 L502.74,228.51 L503.42,228.48 L504.10,228.46 L504.77,228.43 L505.45,228.41 L506.13,228.39 L506.81,228.37 L507.49,228.36 L508.17,228.34 L508.84,228.33 L509.52,228.31 L510.20,228.30 L510.20,255.60 L509.52,255.60 L508.84,255.60 L508.17,255.61 L507.49,255.61 L506.81,255.61 L506.13,255.62 L505.45,255.62 L504.77,255.63 L504.10,255.63 L503.42,255.63 L502.74,255.64 L502.06,255.64 L501.38,255.65 L500.71,255.65 L500.03,255.66 L499.35,255.66 L498.67,255.67 L497.99,255.68 L497.31,255.68 L496.64,255.69 L495.96,255.70 L495.28,255.71 L494.60,255.72 L493.92,255.72 L493.25,255.73 L492.57,255.74 L491.89,255.75 L491.21,255.77 L490.53,255.78 L489.86,255.79 L489.18,255.80 L488.50,255.82 L487.82,255.83 L487.14,255.85 L486.46,255.87 L485.79,255.89 L485.11,255.90 L484.43,255.93 L483.75,255.95 L483.07,255.97 L482.40,255.99 L481.72,256.02 L481.04,256.05 L480.36,256.08 L479.68,256.11 L479.00,256.14 L478.33,256.17 L477.65,256.21 L476.97,256.25 L476.29,256.29 L475.61,256.33 L474.94,256.38 L474.26,256.42 L473.58,256.47 L472.90,256.52 L472.22,256.58 L471.54,256.64 L470.87,256.70 L470.19,256.76 L469.51,256.83 L468.83,256.90 L468.15,256.98 L467.48,257.05 L466.80,257.13 L466.12,257.22 L465.44,257.31 L464.76,257.40 L464.09,257.50 L463.41,257.60 L462.73,257.71 L462.05,257.81 L461.37,257.93 L460.69,258.04 L460.02,258.17 L459.34,258.29 L458.66,258.42 L457.98,258.55 L457.30,258.69 L456.63,258.83 L455.95,258.97 L455.27,259.12 L454.59,259.27 L453.91,259.42 L453.23,259.57 L452.56,259.72 L451.88,259.88 L451.20,260.16 L450.52,261.02 L449.84,261.88 L449.16,262.74 L448.48,263.58 L447.81,264.41 L447.13,265.23 L446.45,266.04 L445.77,266.83 L445.09,267.60 L444.41,268.35 L443.73,269.09 L443.05,269.81 L442.37,270.51 L441.70,271.19 L441.02,271.85 L440.34,272.48 L439.66,273.10 L438.98,273.69 L438.30,274.26 L437.62,274.79 L436.94,275.31 L436.26,275.79 L435.59,276.25 L434.91,276.67 L434.23,277.07 L433.55,277.44 L432.87,277.77 L432.19,278.08 L431.51,278.35 L430.83,278.60 L430.15,278.81 L429.48,279.00 L428.80,279.15 L428.12,279.28 L427.44,279.38 L426.76,279.46 L426.08,279.51 L425.40,279.53 L424.72,279.54 L424.04,279.52 L423.37,279.49 L422.69,279.44 L422.01,279.38 L421.33,279.30 L420.65,279.21 L419.97,279.11 L419.29,279.00 L418.61,278.88 L417.93,278.75 L417.26,278.62 L416.58,278.48 L415.90,278.35 L415.22,278.21 L414.54,278.07 L413.86,277.92 L413.18,277.79 L412.50,277.65 L411.82,277.52 L411.15,277.39 L410.47,277.26 L409.79,277.14 L409.11,277.03 L408.43,276.92 L407.75,276.82 L407.07,276.72 L406.39,276.63 L405.71,276.55 L405.04,276.47 L404.36,276.40 L403.68,276.34 L403.00,276.28 L402.32,276.22 L401.64,276.17 L400.96,276.12 L400.28,276.08 L399.60,276.04 L398.93,276.00 L398.25,275.97 L397.57,275.94 L396.89,275.91 L396.21,275.88 L395.53,275.86 L394.85,275.83 L394.17,275.81 L393.49,275.79 L392.82,275.77 L392.14,275.75 L391.46,275.73 L390.78,275.71 L390.10,275.70Z" fill="#e8eeee" stroke="none"/>
<line x1="383.2" y1="260.1" x2="518.0" y2="260.1" stroke="#7a7a7a" stroke-width="1.1" stroke-dasharray="1.45 1.22" stroke-dashoffset="-0.75"/>
<path d="M390.10,245.10 L390.77,245.73 L391.44,246.36 L392.11,246.99 L392.78,247.61 L393.45,248.24 L394.13,248.87 L394.80,249.50 L395.47,250.12 L396.14,250.75 L396.81,251.37 L397.48,251.99 L398.15,252.62 L398.82,253.24 L399.49,253.86 L400.16,254.47 L400.84,255.09 L401.51,255.70 L402.18,256.30 L402.85,256.91 L403.52,257.51 L404.19,258.10 L404.86,258.69 L405.53,259.27 L406.20,259.85 L406.87,260.42 L407.54,260.98 L408.22,261.53 L408.89,262.07 L409.56,262.60 L410.23,263.12 L410.90,263.63 L411.57,264.13 L412.24,264.61 L412.91,265.08 L413.58,265.53 L414.25,265.97 L414.93,266.39 L415.60,266.80 L416.27,267.19 L416.94,267.56 L417.61,267.91 L418.28,268.24 L418.95,268.56 L419.62,268.85 L420.29,269.12 L420.96,269.38 L421.63,269.61 L422.31,269.82 L422.98,270.01 L423.65,270.18 L424.32,270.33 L424.99,270.45 L425.66,270.56 L426.33,270.63 L427.00,270.69 L427.67,270.72 L428.34,270.73 L429.02,270.71 L429.69,270.68 L430.36,270.61 L431.03,270.53 L431.70,270.43 L432.37,270.30 L433.04,270.15 L433.71,269.98 L434.38,269.78 L435.05,269.57 L435.72,269.34 L436.40,269.08 L437.07,268.81 L437.74,268.52 L438.41,268.22 L439.08,267.89 L439.75,267.55 L440.42,267.20 L441.09,266.83 L441.76,266.45 L442.43,266.05 L443.11,265.64 L443.78,265.22 L444.45,264.79 L445.12,264.35 L445.79,263.90 L446.46,263.45 L447.13,262.98 L447.80,262.51 L448.47,262.04 L449.14,261.56 L449.81,261.07 L450.49,260.58 L451.16,260.09 L451.83,259.60 L452.50,259.10 L453.17,258.61 L453.84,258.11 L454.51,257.62 L455.18,257.13 L455.85,256.64 L456.52,256.15 L457.19,255.67 L457.87,255.19 L458.54,254.72 L459.21,254.25 L459.88,253.80 L460.55,253.34 L461.22,252.90 L461.89,252.46 L462.56,252.04 L463.23,251.62 L463.90,251.21 L464.58,250.81 L465.25,250.43 L465.92,250.05 L466.59,249.68 L467.26,249.33 L467.93,248.98 L468.60,248.65 L469.27,248.32 L469.94,248.01 L470.61,247.71 L471.28,247.42 L471.96,247.15 L472.63,246.88 L473.30,246.62 L473.97,246.38 L474.64,246.14 L475.31,245.92 L475.98,245.71 L476.65,245.50 L477.32,245.31 L477.99,245.13 L478.67,244.95 L479.34,244.79 L480.01,244.64 L480.68,244.49 L481.35,244.36 L482.02,244.23 L482.69,244.11 L483.36,244.00 L484.03,243.90 L484.70,243.81 L485.37,243.72 L486.05,243.64 L486.72,243.57 L487.39,243.51 L488.06,243.45 L488.73,243.40 L489.40,243.35 L490.07,243.31 L490.74,243.27 L491.41,243.24 L492.08,243.22 L492.76,243.20 L493.43,243.18 L494.10,243.16 L494.77,243.15 L495.44,243.15 L496.11,243.14 L496.78,243.14 L497.45,243.15 L498.12,243.15 L498.79,243.16 L499.46,243.17 L500.14,243.19 L500.81,243.20 L501.48,243.22 L502.15,243.24 L502.82,243.26 L503.49,243.29 L504.16,243.31 L504.83,243.34 L505.50,243.37 L506.17,243.40 L506.85,243.43 L507.52,243.46 L508.19,243.49 L508.86,243.53 L509.53,243.56 L510.20,243.59" fill="none" stroke="#53665f" stroke-width="1.25" stroke-linejoin="round"/>
<rect x="382.7" y="173.5" width="135.8" height="132.8" fill="none" stroke="#b3c3c3" stroke-width="1"/>
<line x1="380.9" y1="179.9" x2="382.7" y2="179.9" stroke="#7f8f8f" stroke-width="0.9"/>
<text x="379.7" y="182.20000000000002" text-anchor="end" font-size="6.4" fill="#1c1c1c" stroke="#1c1c1c" stroke-width="0.18" textLength="9.2" lengthAdjust="spacingAndGlyphs">1.40</text>
<line x1="380.9" y1="220" x2="382.7" y2="220" stroke="#7f8f8f" stroke-width="0.9"/>
<text x="379.7" y="222.3" text-anchor="end" font-size="6.4" fill="#1c1c1c" stroke="#1c1c1c" stroke-width="0.18" textLength="9.2" lengthAdjust="spacingAndGlyphs">1.20</text>
<line x1="380.9" y1="260.2" x2="382.7" y2="260.2" stroke="#7f8f8f" stroke-width="0.9"/>
<text x="379.7" y="262.5" text-anchor="end" font-size="6.4" fill="#1c1c1c" stroke="#1c1c1c" stroke-width="0.18" textLength="9.2" lengthAdjust="spacingAndGlyphs">1.00</text>
<line x1="380.9" y1="300.4" x2="382.7" y2="300.4" stroke="#7f8f8f" stroke-width="0.9"/>
<text x="379.7" y="302.7" text-anchor="end" font-size="6.4" fill="#1c1c1c" stroke="#1c1c1c" stroke-width="0.18" textLength="9.2" lengthAdjust="spacingAndGlyphs">0.80</text>
<line x1="388.6" y1="306.3" x2="388.6" y2="308.1" stroke="#7f8f8f" stroke-width="0.9"/>
<text x="388.6" y="314.7" text-anchor="middle" font-size="5.8" fill="#1c1c1c" stroke="#1c1c1c" stroke-width="0.18" textLength="2.90" lengthAdjust="spacingAndGlyphs">4</text>
<line x1="409.25" y1="306.3" x2="409.25" y2="308.1" stroke="#7f8f8f" stroke-width="0.9"/>
<text x="409.25" y="314.7" text-anchor="middle" font-size="5.8" fill="#1c1c1c" stroke="#1c1c1c" stroke-width="0.18" textLength="2.90" lengthAdjust="spacingAndGlyphs">6</text>
<line x1="429.90000000000003" y1="306.3" x2="429.90000000000003" y2="308.1" stroke="#7f8f8f" stroke-width="0.9"/>
<text x="429.90000000000003" y="314.7" text-anchor="middle" font-size="5.8" fill="#1c1c1c" stroke="#1c1c1c" stroke-width="0.18" textLength="2.90" lengthAdjust="spacingAndGlyphs">8</text>
<line x1="450.55" y1="306.3" x2="450.55" y2="308.1" stroke="#7f8f8f" stroke-width="0.9"/>
<text x="450.55" y="314.7" text-anchor="middle" font-size="5.8" fill="#1c1c1c" stroke="#1c1c1c" stroke-width="0.18" textLength="5.80" lengthAdjust="spacingAndGlyphs">10</text>
<line x1="471.20000000000005" y1="306.3" x2="471.20000000000005" y2="308.1" stroke="#7f8f8f" stroke-width="0.9"/>
<text x="471.20000000000005" y="314.7" text-anchor="middle" font-size="5.8" fill="#1c1c1c" stroke="#1c1c1c" stroke-width="0.18" textLength="5.80" lengthAdjust="spacingAndGlyphs">12</text>
<line x1="491.85" y1="306.3" x2="491.85" y2="308.1" stroke="#7f8f8f" stroke-width="0.9"/>
<text x="491.85" y="314.7" text-anchor="middle" font-size="5.8" fill="#1c1c1c" stroke="#1c1c1c" stroke-width="0.18" textLength="5.80" lengthAdjust="spacingAndGlyphs">14</text>
<line x1="512.5" y1="306.3" x2="512.5" y2="308.1" stroke="#7f8f8f" stroke-width="0.9"/>
<text x="512.5" y="314.7" text-anchor="middle" font-size="5.8" fill="#1c1c1c" stroke="#1c1c1c" stroke-width="0.18" textLength="5.80" lengthAdjust="spacingAndGlyphs">16</text>
<text x="451.8" y="327.8" text-anchor="middle" font-size="7.5" font-weight="bold" fill="#0a0a0a" stroke="#0a0a0a" stroke-width="0.32">Plasma n-6/n-3 ratio</text>
<text transform="translate(361.6,245.75) rotate(-90)" text-anchor="middle" font-size="7.42" font-weight="bold" fill="#0a0a0a" stroke="#0a0a0a" stroke-width="0.32">Hazard ratio for type 2 diabetes</text>
<text transform="translate(354.5,178.5) scale(1,1.09)" font-size="15.3" font-weight="bold" fill="#000">F</text>
</g>
</svg>
</body></html>
